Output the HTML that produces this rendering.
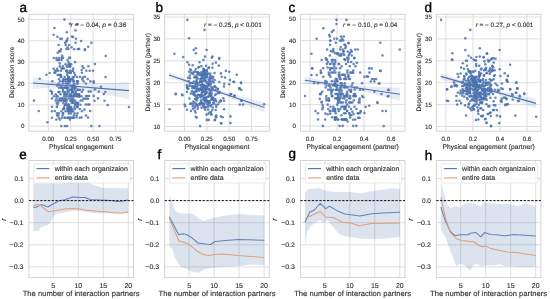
<!DOCTYPE html>
<html><head><meta charset="utf-8"><style>
html,body{margin:0;padding:0;background:#fff;overflow:hidden}
svg{display:block;filter:blur(0.35px)}
text{font-family:"Liberation Sans", sans-serif;text-rendering:geometricPrecision;stroke:#2e2e2e;stroke-width:0.12px}
</style></head><body>
<svg width="550" height="299" viewBox="0 0 550 299">
<rect width="550" height="299" fill="#fff"/>
<line x1="48.30" y1="14.30" x2="48.30" y2="131.20" stroke="#d6d6d6" stroke-width="0.8"/>
<line x1="70.70" y1="14.30" x2="70.70" y2="131.20" stroke="#d6d6d6" stroke-width="0.8"/>
<line x1="93.10" y1="14.30" x2="93.10" y2="131.20" stroke="#d6d6d6" stroke-width="0.8"/>
<line x1="115.50" y1="14.30" x2="115.50" y2="131.20" stroke="#d6d6d6" stroke-width="0.8"/>
<line x1="28.90" y1="126.20" x2="133.50" y2="126.20" stroke="#d6d6d6" stroke-width="0.8"/>
<line x1="28.90" y1="104.84" x2="133.50" y2="104.84" stroke="#d6d6d6" stroke-width="0.8"/>
<line x1="28.90" y1="83.48" x2="133.50" y2="83.48" stroke="#d6d6d6" stroke-width="0.8"/>
<line x1="28.90" y1="62.12" x2="133.50" y2="62.12" stroke="#d6d6d6" stroke-width="0.8"/>
<line x1="28.90" y1="40.76" x2="133.50" y2="40.76" stroke="#d6d6d6" stroke-width="0.8"/>
<line x1="28.90" y1="19.40" x2="133.50" y2="19.40" stroke="#d6d6d6" stroke-width="0.8"/>
<rect x="28.90" y="14.30" width="104.60" height="116.90" fill="none" stroke="#cfcfcf" stroke-width="0.9"/>
<g fill="#4c72b0" fill-opacity="0.85"><circle cx="64.40" cy="19.60" r="1.28"/><circle cx="69.90" cy="23.80" r="1.28"/><circle cx="77.60" cy="24.00" r="1.28"/><circle cx="54.40" cy="28.00" r="1.28"/><circle cx="75.40" cy="30.30" r="1.28"/><circle cx="66.80" cy="32.30" r="1.28"/><circle cx="53.70" cy="34.70" r="1.28"/><circle cx="57.50" cy="36.70" r="1.28"/><circle cx="60.20" cy="38.70" r="1.28"/><circle cx="61.80" cy="38.70" r="1.28"/><circle cx="67.60" cy="38.50" r="1.28"/><circle cx="66.90" cy="40.40" r="1.28"/><circle cx="66.40" cy="41.40" r="1.28"/><circle cx="71.80" cy="36.50" r="1.28"/><circle cx="73.10" cy="37.00" r="1.28"/><circle cx="76.00" cy="38.70" r="1.28"/><circle cx="81.10" cy="41.00" r="1.28"/><circle cx="75.60" cy="42.70" r="1.28"/><circle cx="91.40" cy="42.70" r="1.28"/><circle cx="65.80" cy="45.00" r="1.28"/><circle cx="69.10" cy="45.00" r="1.28"/><circle cx="71.60" cy="47.20" r="1.28"/><circle cx="88.20" cy="46.80" r="1.28"/><circle cx="85.10" cy="49.40" r="1.28"/><circle cx="77.70" cy="49.00" r="1.28"/><circle cx="79.10" cy="49.00" r="1.28"/><circle cx="66.40" cy="49.00" r="1.28"/><circle cx="68.40" cy="49.00" r="1.28"/><circle cx="78.50" cy="49.00" r="1.28"/><circle cx="59.10" cy="51.40" r="1.28"/><circle cx="57.70" cy="52.80" r="1.28"/><circle cx="60.40" cy="51.30" r="1.28"/><circle cx="39.70" cy="78.70" r="1.28"/><circle cx="46.40" cy="74.70" r="1.28"/><circle cx="49.70" cy="73.00" r="1.28"/><circle cx="53.70" cy="68.70" r="1.28"/><circle cx="53.70" cy="58.00" r="1.28"/><circle cx="56.40" cy="58.00" r="1.28"/><circle cx="59.10" cy="58.00" r="1.28"/><circle cx="61.80" cy="58.00" r="1.28"/><circle cx="59.70" cy="63.40" r="1.28"/><circle cx="57.10" cy="68.70" r="1.28"/><circle cx="105.70" cy="56.00" r="1.28"/><circle cx="84.70" cy="50.00" r="1.28"/><circle cx="95.00" cy="64.00" r="1.28"/><circle cx="88.40" cy="66.30" r="1.28"/><circle cx="83.70" cy="68.00" r="1.28"/><circle cx="81.70" cy="70.00" r="1.28"/><circle cx="86.30" cy="70.70" r="1.28"/><circle cx="89.70" cy="70.70" r="1.28"/><circle cx="93.00" cy="70.70" r="1.28"/><circle cx="105.50" cy="77.10" r="1.28"/><circle cx="83.00" cy="77.40" r="1.28"/><circle cx="85.00" cy="76.70" r="1.28"/><circle cx="87.70" cy="79.10" r="1.28"/><circle cx="90.40" cy="81.40" r="1.28"/><circle cx="93.70" cy="81.40" r="1.28"/><circle cx="93.70" cy="82.80" r="1.28"/><circle cx="82.30" cy="79.40" r="1.28"/><circle cx="83.70" cy="81.40" r="1.28"/><circle cx="101.00" cy="86.80" r="1.28"/><circle cx="95.00" cy="89.40" r="1.28"/><circle cx="34.00" cy="100.60" r="1.28"/><circle cx="38.80" cy="111.00" r="1.28"/><circle cx="47.40" cy="122.20" r="1.28"/><circle cx="56.30" cy="119.60" r="1.28"/><circle cx="59.90" cy="119.60" r="1.28"/><circle cx="69.90" cy="119.60" r="1.28"/><circle cx="61.30" cy="126.10" r="1.28"/><circle cx="64.90" cy="126.10" r="1.28"/><circle cx="67.10" cy="126.10" r="1.28"/><circle cx="52.00" cy="106.70" r="1.28"/><circle cx="54.90" cy="111.00" r="1.28"/><circle cx="50.60" cy="90.90" r="1.28"/><circle cx="52.00" cy="93.70" r="1.28"/><circle cx="91.30" cy="126.10" r="1.28"/><circle cx="99.50" cy="126.10" r="1.28"/><circle cx="76.50" cy="117.50" r="1.28"/><circle cx="81.50" cy="117.50" r="1.28"/><circle cx="88.00" cy="117.50" r="1.28"/><circle cx="90.10" cy="111.00" r="1.28"/><circle cx="84.40" cy="109.60" r="1.28"/><circle cx="107.70" cy="105.00" r="1.28"/><circle cx="129.00" cy="107.00" r="1.28"/><circle cx="104.50" cy="100.70" r="1.28"/><circle cx="98.00" cy="98.40" r="1.28"/><circle cx="94.50" cy="100.70" r="1.28"/><circle cx="103.80" cy="94.00" r="1.28"/><circle cx="105.30" cy="92.00" r="1.28"/><circle cx="98.80" cy="91.60" r="1.28"/><circle cx="88.70" cy="91.60" r="1.28"/><circle cx="90.90" cy="91.60" r="1.28"/><circle cx="93.70" cy="95.90" r="1.28"/><circle cx="86.00" cy="96.00" r="1.28"/><circle cx="87.50" cy="96.00" r="1.28"/><circle cx="89.00" cy="96.00" r="1.28"/><circle cx="85.10" cy="98.80" r="1.28"/><circle cx="86.50" cy="98.80" r="1.28"/><circle cx="88.00" cy="98.80" r="1.28"/><circle cx="85.80" cy="104.50" r="1.28"/><circle cx="88.00" cy="104.50" r="1.28"/><circle cx="89.40" cy="104.50" r="1.28"/><circle cx="52.00" cy="92.02" r="1.28"/><circle cx="73.56" cy="117.66" r="1.28"/><circle cx="69.22" cy="109.11" r="1.28"/><circle cx="76.70" cy="96.30" r="1.28"/><circle cx="67.99" cy="109.11" r="1.28"/><circle cx="70.76" cy="113.38" r="1.28"/><circle cx="57.00" cy="113.38" r="1.28"/><circle cx="72.58" cy="109.11" r="1.28"/><circle cx="65.44" cy="100.57" r="1.28"/><circle cx="71.80" cy="111.25" r="1.28"/><circle cx="72.68" cy="96.30" r="1.28"/><circle cx="68.06" cy="79.21" r="1.28"/><circle cx="71.53" cy="100.57" r="1.28"/><circle cx="68.89" cy="83.48" r="1.28"/><circle cx="75.07" cy="94.16" r="1.28"/><circle cx="73.01" cy="111.25" r="1.28"/><circle cx="64.62" cy="100.57" r="1.28"/><circle cx="64.30" cy="109.11" r="1.28"/><circle cx="82.95" cy="89.89" r="1.28"/><circle cx="68.19" cy="111.25" r="1.28"/><circle cx="76.93" cy="83.48" r="1.28"/><circle cx="72.15" cy="92.02" r="1.28"/><circle cx="64.49" cy="117.66" r="1.28"/><circle cx="63.01" cy="89.89" r="1.28"/><circle cx="69.96" cy="79.21" r="1.28"/><circle cx="71.05" cy="106.98" r="1.28"/><circle cx="73.91" cy="87.75" r="1.28"/><circle cx="58.86" cy="117.66" r="1.28"/><circle cx="64.24" cy="96.30" r="1.28"/><circle cx="68.24" cy="117.66" r="1.28"/><circle cx="81.81" cy="92.02" r="1.28"/><circle cx="52.00" cy="117.66" r="1.28"/><circle cx="72.51" cy="117.66" r="1.28"/><circle cx="64.68" cy="94.16" r="1.28"/><circle cx="72.45" cy="70.66" r="1.28"/><circle cx="65.06" cy="104.84" r="1.28"/><circle cx="71.92" cy="87.75" r="1.28"/><circle cx="81.52" cy="96.30" r="1.28"/><circle cx="71.83" cy="102.70" r="1.28"/><circle cx="72.47" cy="92.02" r="1.28"/><circle cx="71.98" cy="79.21" r="1.28"/><circle cx="63.00" cy="113.38" r="1.28"/><circle cx="73.34" cy="92.02" r="1.28"/><circle cx="67.33" cy="94.16" r="1.28"/><circle cx="62.51" cy="115.52" r="1.28"/><circle cx="68.69" cy="79.21" r="1.28"/><circle cx="67.18" cy="74.94" r="1.28"/><circle cx="75.03" cy="109.11" r="1.28"/><circle cx="68.66" cy="77.07" r="1.28"/><circle cx="64.76" cy="98.43" r="1.28"/><circle cx="80.65" cy="100.57" r="1.28"/><circle cx="76.91" cy="81.34" r="1.28"/><circle cx="79.16" cy="96.30" r="1.28"/><circle cx="73.86" cy="94.16" r="1.28"/><circle cx="68.12" cy="81.34" r="1.28"/><circle cx="65.65" cy="83.48" r="1.28"/><circle cx="66.77" cy="87.75" r="1.28"/><circle cx="76.58" cy="115.52" r="1.28"/><circle cx="69.90" cy="117.66" r="1.28"/><circle cx="57.14" cy="85.62" r="1.28"/><circle cx="68.69" cy="109.11" r="1.28"/><circle cx="57.67" cy="96.30" r="1.28"/><circle cx="70.33" cy="111.25" r="1.28"/><circle cx="59.37" cy="100.57" r="1.28"/><circle cx="58.89" cy="113.38" r="1.28"/><circle cx="69.95" cy="79.21" r="1.28"/><circle cx="68.37" cy="111.25" r="1.28"/><circle cx="55.71" cy="100.57" r="1.28"/><circle cx="74.99" cy="100.57" r="1.28"/><circle cx="86.00" cy="83.48" r="1.28"/><circle cx="57.15" cy="115.52" r="1.28"/><circle cx="83.56" cy="98.43" r="1.28"/><circle cx="63.50" cy="100.57" r="1.28"/><circle cx="65.05" cy="92.02" r="1.28"/><circle cx="67.57" cy="92.02" r="1.28"/><circle cx="57.44" cy="104.84" r="1.28"/><circle cx="79.39" cy="96.30" r="1.28"/><circle cx="72.94" cy="102.70" r="1.28"/><circle cx="62.99" cy="92.02" r="1.28"/><circle cx="66.78" cy="100.57" r="1.28"/><circle cx="56.87" cy="106.98" r="1.28"/><circle cx="66.22" cy="98.43" r="1.28"/><circle cx="76.49" cy="94.16" r="1.28"/><circle cx="55.28" cy="72.80" r="1.28"/><circle cx="65.51" cy="104.84" r="1.28"/><circle cx="70.17" cy="94.16" r="1.28"/><circle cx="77.39" cy="81.34" r="1.28"/><circle cx="79.79" cy="117.66" r="1.28"/><circle cx="65.34" cy="117.66" r="1.28"/><circle cx="63.08" cy="113.38" r="1.28"/><circle cx="72.60" cy="100.57" r="1.28"/><circle cx="66.09" cy="70.66" r="1.28"/><circle cx="66.52" cy="94.16" r="1.28"/><circle cx="77.64" cy="83.48" r="1.28"/><circle cx="82.52" cy="100.57" r="1.28"/><circle cx="71.13" cy="117.66" r="1.28"/><circle cx="67.46" cy="117.66" r="1.28"/><circle cx="73.57" cy="85.62" r="1.28"/><circle cx="53.90" cy="96.30" r="1.28"/><circle cx="68.85" cy="113.38" r="1.28"/><circle cx="60.52" cy="85.62" r="1.28"/><circle cx="86.00" cy="115.52" r="1.28"/><circle cx="74.76" cy="85.62" r="1.28"/><circle cx="70.13" cy="81.34" r="1.28"/><circle cx="67.45" cy="106.98" r="1.28"/><circle cx="52.00" cy="111.25" r="1.28"/><circle cx="74.70" cy="87.75" r="1.28"/><circle cx="82.03" cy="111.25" r="1.28"/><circle cx="63.17" cy="87.75" r="1.28"/><circle cx="74.47" cy="113.38" r="1.28"/><circle cx="74.78" cy="89.89" r="1.28"/><circle cx="56.61" cy="96.30" r="1.28"/><circle cx="76.49" cy="102.70" r="1.28"/><circle cx="79.84" cy="109.11" r="1.28"/><circle cx="70.83" cy="96.30" r="1.28"/><circle cx="68.49" cy="117.66" r="1.28"/><circle cx="75.30" cy="102.70" r="1.28"/><circle cx="56.67" cy="102.70" r="1.28"/><circle cx="69.75" cy="89.89" r="1.28"/><circle cx="77.43" cy="113.38" r="1.28"/><circle cx="59.06" cy="79.21" r="1.28"/><circle cx="76.94" cy="102.70" r="1.28"/><circle cx="65.65" cy="111.25" r="1.28"/><circle cx="52.35" cy="81.34" r="1.28"/><circle cx="68.15" cy="79.21" r="1.28"/><circle cx="61.22" cy="100.57" r="1.28"/><circle cx="71.55" cy="109.11" r="1.28"/><circle cx="59.62" cy="98.43" r="1.28"/><circle cx="77.40" cy="106.98" r="1.28"/><circle cx="63.09" cy="102.70" r="1.28"/><circle cx="71.85" cy="79.21" r="1.28"/><circle cx="64.25" cy="94.16" r="1.28"/><circle cx="66.42" cy="96.30" r="1.28"/><circle cx="78.53" cy="94.16" r="1.28"/><circle cx="70.72" cy="98.43" r="1.28"/><circle cx="65.84" cy="87.75" r="1.28"/><circle cx="58.99" cy="87.75" r="1.28"/><circle cx="78.28" cy="102.70" r="1.28"/><circle cx="74.86" cy="96.30" r="1.28"/><circle cx="66.39" cy="70.66" r="1.28"/><circle cx="70.95" cy="94.16" r="1.28"/><circle cx="60.76" cy="100.57" r="1.28"/><circle cx="60.88" cy="74.94" r="1.28"/><circle cx="62.39" cy="98.43" r="1.28"/><circle cx="71.83" cy="111.25" r="1.28"/><circle cx="71.37" cy="89.89" r="1.28"/><circle cx="63.04" cy="109.11" r="1.28"/><circle cx="74.90" cy="104.84" r="1.28"/><circle cx="75.28" cy="94.16" r="1.28"/><circle cx="70.38" cy="100.57" r="1.28"/><circle cx="77.31" cy="106.98" r="1.28"/><circle cx="66.70" cy="104.84" r="1.28"/><circle cx="68.10" cy="104.84" r="1.28"/><circle cx="72.78" cy="85.62" r="1.28"/><circle cx="68.73" cy="106.98" r="1.28"/><circle cx="75.35" cy="104.84" r="1.28"/><circle cx="58.98" cy="74.94" r="1.28"/><circle cx="80.41" cy="104.84" r="1.28"/><circle cx="62.75" cy="81.34" r="1.28"/><circle cx="67.68" cy="83.48" r="1.28"/><circle cx="57.98" cy="100.57" r="1.28"/><circle cx="73.80" cy="115.52" r="1.28"/><circle cx="79.19" cy="94.16" r="1.28"/><circle cx="77.57" cy="89.89" r="1.28"/><circle cx="75.67" cy="87.75" r="1.28"/><circle cx="56.54" cy="98.43" r="1.28"/><circle cx="62.74" cy="83.48" r="1.28"/><circle cx="65.30" cy="81.34" r="1.28"/><circle cx="61.52" cy="111.25" r="1.28"/><circle cx="77.98" cy="81.34" r="1.28"/><circle cx="70.48" cy="96.30" r="1.28"/><circle cx="68.80" cy="104.84" r="1.28"/><circle cx="72.90" cy="102.70" r="1.28"/><circle cx="61.39" cy="77.07" r="1.28"/><circle cx="61.73" cy="87.75" r="1.28"/><circle cx="61.95" cy="117.66" r="1.28"/><circle cx="72.98" cy="98.43" r="1.28"/><circle cx="71.73" cy="100.57" r="1.28"/><circle cx="73.62" cy="100.57" r="1.28"/><circle cx="77.63" cy="104.84" r="1.28"/><circle cx="58.14" cy="115.52" r="1.28"/><circle cx="64.52" cy="87.75" r="1.28"/><circle cx="70.18" cy="109.11" r="1.28"/><circle cx="58.21" cy="102.70" r="1.28"/><circle cx="64.74" cy="104.84" r="1.28"/><circle cx="77.11" cy="106.98" r="1.28"/><circle cx="77.82" cy="89.89" r="1.28"/><circle cx="77.61" cy="94.16" r="1.28"/><circle cx="69.34" cy="106.98" r="1.28"/><circle cx="67.30" cy="109.11" r="1.28"/><circle cx="77.64" cy="104.84" r="1.28"/><circle cx="66.02" cy="87.75" r="1.28"/><circle cx="71.71" cy="96.30" r="1.28"/><circle cx="79.60" cy="96.30" r="1.28"/><circle cx="66.06" cy="102.70" r="1.28"/><circle cx="64.12" cy="100.57" r="1.28"/><circle cx="68.93" cy="96.30" r="1.28"/><circle cx="73.79" cy="117.66" r="1.28"/><circle cx="72.86" cy="79.21" r="1.28"/><circle cx="70.25" cy="106.98" r="1.28"/><circle cx="63.59" cy="79.21" r="1.28"/><circle cx="75.03" cy="62.12" r="1.28"/><circle cx="68.33" cy="87.75" r="1.28"/><circle cx="67.25" cy="70.66" r="1.28"/><circle cx="63.50" cy="79.21" r="1.28"/><circle cx="57.63" cy="74.94" r="1.28"/><circle cx="68.11" cy="81.34" r="1.28"/><circle cx="74.17" cy="49.30" r="1.28"/><circle cx="61.60" cy="87.75" r="1.28"/><circle cx="75.18" cy="74.94" r="1.28"/><circle cx="60.24" cy="74.94" r="1.28"/><circle cx="62.60" cy="68.53" r="1.28"/><circle cx="70.04" cy="70.66" r="1.28"/><circle cx="67.00" cy="72.80" r="1.28"/><circle cx="71.15" cy="64.26" r="1.28"/><circle cx="62.55" cy="98.43" r="1.28"/><circle cx="60.81" cy="77.07" r="1.28"/><circle cx="55.80" cy="94.16" r="1.28"/><circle cx="59.78" cy="74.94" r="1.28"/><circle cx="60.54" cy="94.16" r="1.28"/><circle cx="58.44" cy="92.02" r="1.28"/><circle cx="68.85" cy="79.21" r="1.28"/><circle cx="63.02" cy="57.85" r="1.28"/><circle cx="55.07" cy="70.66" r="1.28"/><circle cx="81.90" cy="72.80" r="1.28"/><circle cx="61.99" cy="57.85" r="1.28"/><circle cx="59.47" cy="92.02" r="1.28"/><circle cx="74.44" cy="106.98" r="1.28"/><circle cx="73.99" cy="83.48" r="1.28"/><circle cx="60.09" cy="81.34" r="1.28"/><circle cx="58.16" cy="59.98" r="1.28"/><circle cx="61.00" cy="49.30" r="1.28"/><circle cx="73.78" cy="96.30" r="1.28"/><circle cx="65.13" cy="42.90" r="1.28"/><circle cx="62.15" cy="55.71" r="1.28"/><circle cx="66.83" cy="66.39" r="1.28"/><circle cx="74.23" cy="72.80" r="1.28"/><circle cx="58.66" cy="45.03" r="1.28"/><circle cx="64.70" cy="77.07" r="1.28"/><circle cx="58.70" cy="83.48" r="1.28"/><circle cx="80.03" cy="77.07" r="1.28"/><circle cx="77.91" cy="96.30" r="1.28"/><circle cx="72.71" cy="70.66" r="1.28"/><circle cx="66.20" cy="79.21" r="1.28"/><circle cx="70.95" cy="72.80" r="1.28"/><circle cx="54.39" cy="72.80" r="1.28"/><circle cx="68.66" cy="92.02" r="1.28"/><circle cx="58.98" cy="59.98" r="1.28"/><circle cx="59.05" cy="92.02" r="1.28"/><circle cx="62.77" cy="66.39" r="1.28"/><circle cx="64.90" cy="100.57" r="1.28"/><circle cx="70.45" cy="72.80" r="1.28"/><circle cx="71.20" cy="89.89" r="1.28"/><circle cx="68.58" cy="77.07" r="1.28"/><circle cx="61.33" cy="87.75" r="1.28"/><circle cx="71.06" cy="109.11" r="1.28"/><circle cx="66.27" cy="94.16" r="1.28"/><circle cx="74.08" cy="77.07" r="1.28"/><circle cx="61.50" cy="68.53" r="1.28"/><circle cx="52.00" cy="98.43" r="1.28"/><circle cx="64.14" cy="106.98" r="1.28"/><circle cx="79.91" cy="89.89" r="1.28"/><circle cx="69.81" cy="81.34" r="1.28"/><circle cx="65.83" cy="87.75" r="1.28"/><circle cx="72.30" cy="89.89" r="1.28"/><circle cx="70.02" cy="66.39" r="1.28"/><circle cx="69.77" cy="64.26" r="1.28"/><circle cx="63.92" cy="68.53" r="1.28"/><circle cx="67.46" cy="89.89" r="1.28"/><circle cx="68.21" cy="77.07" r="1.28"/><circle cx="63.14" cy="81.34" r="1.28"/><circle cx="60.29" cy="98.43" r="1.28"/><circle cx="67.83" cy="66.39" r="1.28"/><circle cx="72.81" cy="77.07" r="1.28"/><circle cx="70.88" cy="85.62" r="1.28"/><circle cx="69.96" cy="57.85" r="1.28"/><circle cx="70.03" cy="66.39" r="1.28"/><circle cx="82.50" cy="66.39" r="1.28"/><circle cx="68.56" cy="62.12" r="1.28"/><circle cx="73.25" cy="68.53" r="1.28"/><circle cx="78.74" cy="96.30" r="1.28"/><circle cx="67.32" cy="83.48" r="1.28"/><circle cx="68.59" cy="64.26" r="1.28"/><circle cx="73.26" cy="87.75" r="1.28"/><circle cx="77.13" cy="77.07" r="1.28"/><circle cx="68.88" cy="72.80" r="1.28"/><circle cx="69.18" cy="57.85" r="1.28"/><circle cx="67.55" cy="59.98" r="1.28"/><circle cx="59.77" cy="66.39" r="1.28"/><circle cx="73.71" cy="81.34" r="1.28"/><circle cx="65.49" cy="64.26" r="1.28"/><circle cx="56.69" cy="70.66" r="1.28"/><circle cx="66.14" cy="79.21" r="1.28"/><circle cx="56.64" cy="59.98" r="1.28"/><circle cx="60.97" cy="70.66" r="1.28"/><circle cx="67.13" cy="87.75" r="1.28"/><circle cx="61.50" cy="59.98" r="1.28"/><circle cx="73.45" cy="81.34" r="1.28"/><circle cx="58.22" cy="70.66" r="1.28"/><circle cx="68.61" cy="98.43" r="1.28"/><circle cx="70.39" cy="79.21" r="1.28"/><circle cx="75.80" cy="92.02" r="1.28"/><circle cx="72.58" cy="92.02" r="1.28"/><circle cx="68.45" cy="104.84" r="1.28"/><circle cx="67.53" cy="47.17" r="1.28"/></g>
<polygon points="33.00,77.00 35.46,77.58 37.92,78.15 40.38,78.72 42.85,79.29 45.31,79.85 47.77,80.40 50.23,80.95 52.69,81.48 55.15,81.99 57.62,82.47 60.08,82.93 62.54,83.33 65.00,83.67 67.46,83.93 69.92,84.10 72.38,84.22 74.85,84.29 77.31,84.31 79.77,84.29 82.23,84.25 84.69,84.19 87.15,84.12 89.62,84.03 92.08,83.94 94.54,83.83 97.00,83.73 99.46,83.61 101.92,83.50 104.38,83.38 106.85,83.26 109.31,83.13 111.77,83.01 114.23,82.88 116.69,82.75 119.15,82.63 121.62,82.50 124.08,82.36 126.54,82.23 129.00,82.10 129.00,99.10 126.54,98.58 124.08,98.06 121.62,97.54 119.15,97.02 116.69,96.50 114.23,95.98 111.77,95.46 109.31,94.95 106.85,94.43 104.38,93.92 101.92,93.41 99.46,92.91 97.00,92.41 94.54,91.91 92.08,91.42 89.62,90.93 87.15,90.46 84.69,89.99 82.23,89.54 79.77,89.11 77.31,88.71 74.85,88.34 72.38,88.01 69.92,87.74 67.46,87.53 65.00,87.40 62.54,87.35 60.08,87.36 57.62,87.42 55.15,87.52 52.69,87.64 50.23,87.78 47.77,87.94 45.31,88.10 42.85,88.27 40.38,88.45 37.92,88.63 35.46,88.81 33.00,89.00" fill="#4c72b0" fill-opacity="0.13"/>
<line x1="33.0" y1="83.0" x2="129.0" y2="90.6" stroke="#4c72b0" stroke-width="1.15"/>
<text x="70.60" y="27.2" font-size="6.3" fill="#2e2e2e" textLength="55.7" lengthAdjust="spacingAndGlyphs"><tspan font-style="italic">r</tspan> = − 0.04, <tspan font-style="italic">p</tspan> = 0.36</text>
<text x="48.30" y="140.60" font-size="6.2" text-anchor="middle" fill="#2e2e2e" >0.00</text>
<text x="70.70" y="140.60" font-size="6.2" text-anchor="middle" fill="#2e2e2e" >0.25</text>
<text x="93.10" y="140.60" font-size="6.2" text-anchor="middle" fill="#2e2e2e" >0.50</text>
<text x="115.50" y="140.60" font-size="6.2" text-anchor="middle" fill="#2e2e2e" >0.75</text>
<text x="24.50" y="128.30" font-size="6.2" text-anchor="end" fill="#2e2e2e" >0</text>
<text x="24.50" y="106.94" font-size="6.2" text-anchor="end" fill="#2e2e2e" >10</text>
<text x="24.50" y="85.58" font-size="6.2" text-anchor="end" fill="#2e2e2e" >20</text>
<text x="24.50" y="64.22" font-size="6.2" text-anchor="end" fill="#2e2e2e" >30</text>
<text x="24.50" y="42.86" font-size="6.2" text-anchor="end" fill="#2e2e2e" >40</text>
<text x="24.50" y="21.50" font-size="6.2" text-anchor="end" fill="#2e2e2e" >50</text>
<text x="81.20" y="149.20" font-size="6.75" text-anchor="middle" fill="#2e2e2e" >Physical engagement</text>
<text x="0.00" y="0.00" font-size="6.6" text-anchor="middle" fill="#2e2e2e" transform="translate(13.90,72.25) rotate(-90)">Depression score</text>
<text x="19.60" y="12.30" font-size="13.5" text-anchor="start" fill="#000" style="stroke:#000;stroke-width:0.35px">a</text>
<line x1="184.40" y1="14.30" x2="184.40" y2="131.20" stroke="#d6d6d6" stroke-width="0.8"/>
<line x1="206.80" y1="14.30" x2="206.80" y2="131.20" stroke="#d6d6d6" stroke-width="0.8"/>
<line x1="229.20" y1="14.30" x2="229.20" y2="131.20" stroke="#d6d6d6" stroke-width="0.8"/>
<line x1="251.60" y1="14.30" x2="251.60" y2="131.20" stroke="#d6d6d6" stroke-width="0.8"/>
<line x1="164.70" y1="126.50" x2="269.30" y2="126.50" stroke="#d6d6d6" stroke-width="0.8"/>
<line x1="164.70" y1="104.60" x2="269.30" y2="104.60" stroke="#d6d6d6" stroke-width="0.8"/>
<line x1="164.70" y1="82.70" x2="269.30" y2="82.70" stroke="#d6d6d6" stroke-width="0.8"/>
<line x1="164.70" y1="60.80" x2="269.30" y2="60.80" stroke="#d6d6d6" stroke-width="0.8"/>
<line x1="164.70" y1="38.90" x2="269.30" y2="38.90" stroke="#d6d6d6" stroke-width="0.8"/>
<line x1="164.70" y1="17.00" x2="269.30" y2="17.00" stroke="#d6d6d6" stroke-width="0.8"/>
<rect x="164.70" y="14.30" width="104.60" height="116.90" fill="none" stroke="#cfcfcf" stroke-width="0.9"/>
<g fill="#4c72b0" fill-opacity="0.85"><circle cx="187.40" cy="19.90" r="1.28"/><circle cx="204.50" cy="29.90" r="1.28"/><circle cx="189.10" cy="38.20" r="1.28"/><circle cx="174.40" cy="53.80" r="1.28"/><circle cx="183.20" cy="57.10" r="1.28"/><circle cx="193.80" cy="50.00" r="1.28"/><circle cx="195.80" cy="48.30" r="1.28"/><circle cx="195.80" cy="53.30" r="1.28"/><circle cx="206.60" cy="50.00" r="1.28"/><circle cx="205.00" cy="56.60" r="1.28"/><circle cx="211.70" cy="57.80" r="1.28"/><circle cx="212.50" cy="56.60" r="1.28"/><circle cx="219.20" cy="58.80" r="1.28"/><circle cx="219.20" cy="58.10" r="1.28"/><circle cx="215.90" cy="62.60" r="1.28"/><circle cx="225.90" cy="70.90" r="1.28"/><circle cx="229.20" cy="71.80" r="1.28"/><circle cx="236.80" cy="74.80" r="1.28"/><circle cx="220.90" cy="73.40" r="1.28"/><circle cx="221.70" cy="76.80" r="1.28"/><circle cx="225.00" cy="77.60" r="1.28"/><circle cx="230.10" cy="80.10" r="1.28"/><circle cx="233.40" cy="81.80" r="1.28"/><circle cx="240.90" cy="83.10" r="1.28"/><circle cx="229.20" cy="84.30" r="1.28"/><circle cx="224.20" cy="83.80" r="1.28"/><circle cx="239.30" cy="88.50" r="1.28"/><circle cx="234.10" cy="82.10" r="1.28"/><circle cx="241.10" cy="82.60" r="1.28"/><circle cx="239.40" cy="88.40" r="1.28"/><circle cx="189.10" cy="64.70" r="1.28"/><circle cx="192.70" cy="65.30" r="1.28"/><circle cx="189.10" cy="71.70" r="1.28"/><circle cx="190.30" cy="69.40" r="1.28"/><circle cx="186.80" cy="85.10" r="1.28"/><circle cx="188.00" cy="88.70" r="1.28"/><circle cx="175.70" cy="93.90" r="1.28"/><circle cx="182.10" cy="94.50" r="1.28"/><circle cx="175.80" cy="94.10" r="1.28"/><circle cx="182.50" cy="95.20" r="1.28"/><circle cx="169.50" cy="109.30" r="1.28"/><circle cx="184.70" cy="104.60" r="1.28"/><circle cx="185.20" cy="106.20" r="1.28"/><circle cx="190.40" cy="103.80" r="1.28"/><circle cx="200.10" cy="126.10" r="1.28"/><circle cx="206.70" cy="119.90" r="1.28"/><circle cx="208.70" cy="119.90" r="1.28"/><circle cx="215.00" cy="119.50" r="1.28"/><circle cx="221.30" cy="123.50" r="1.28"/><circle cx="206.40" cy="114.80" r="1.28"/><circle cx="211.10" cy="114.00" r="1.28"/><circle cx="215.80" cy="116.40" r="1.28"/><circle cx="194.60" cy="107.80" r="1.28"/><circle cx="197.80" cy="107.00" r="1.28"/><circle cx="239.80" cy="88.90" r="1.28"/><circle cx="241.40" cy="90.00" r="1.28"/><circle cx="234.30" cy="95.70" r="1.28"/><circle cx="230.40" cy="94.40" r="1.28"/><circle cx="241.40" cy="100.70" r="1.28"/><circle cx="239.80" cy="104.60" r="1.28"/><circle cx="243.00" cy="104.60" r="1.28"/><circle cx="264.20" cy="104.20" r="1.28"/><circle cx="224.10" cy="109.30" r="1.28"/><circle cx="230.40" cy="116.40" r="1.28"/><circle cx="221.00" cy="116.40" r="1.28"/><circle cx="222.60" cy="117.20" r="1.28"/><circle cx="216.30" cy="115.60" r="1.28"/><circle cx="216.30" cy="117.20" r="1.28"/><circle cx="221.00" cy="123.00" r="1.28"/><circle cx="230.40" cy="123.00" r="1.28"/><circle cx="214.70" cy="120.30" r="1.28"/><circle cx="223.30" cy="98.30" r="1.28"/><circle cx="224.10" cy="100.70" r="1.28"/><circle cx="219.40" cy="102.30" r="1.28"/><circle cx="212.40" cy="110.10" r="1.28"/><circle cx="211.60" cy="114.80" r="1.28"/><circle cx="234.70" cy="95.80" r="1.28"/><circle cx="231.20" cy="94.00" r="1.28"/><circle cx="241.70" cy="100.80" r="1.28"/><circle cx="202.30" cy="81.52" r="1.28"/><circle cx="219.40" cy="82.06" r="1.28"/><circle cx="198.32" cy="67.54" r="1.28"/><circle cx="196.69" cy="89.10" r="1.28"/><circle cx="213.24" cy="77.07" r="1.28"/><circle cx="201.12" cy="81.93" r="1.28"/><circle cx="196.15" cy="82.36" r="1.28"/><circle cx="204.67" cy="72.90" r="1.28"/><circle cx="187.00" cy="86.75" r="1.28"/><circle cx="204.75" cy="88.05" r="1.28"/><circle cx="201.75" cy="81.24" r="1.28"/><circle cx="203.49" cy="60.00" r="1.28"/><circle cx="195.97" cy="91.33" r="1.28"/><circle cx="210.84" cy="78.53" r="1.28"/><circle cx="203.82" cy="74.30" r="1.28"/><circle cx="201.47" cy="74.82" r="1.28"/><circle cx="204.15" cy="70.59" r="1.28"/><circle cx="195.74" cy="76.65" r="1.28"/><circle cx="200.70" cy="85.00" r="1.28"/><circle cx="191.06" cy="70.39" r="1.28"/><circle cx="193.85" cy="81.55" r="1.28"/><circle cx="203.65" cy="74.72" r="1.28"/><circle cx="202.41" cy="77.57" r="1.28"/><circle cx="206.78" cy="76.63" r="1.28"/><circle cx="196.92" cy="82.36" r="1.28"/><circle cx="200.79" cy="88.34" r="1.28"/><circle cx="196.74" cy="79.67" r="1.28"/><circle cx="203.35" cy="87.38" r="1.28"/><circle cx="207.03" cy="92.37" r="1.28"/><circle cx="209.03" cy="67.49" r="1.28"/><circle cx="205.54" cy="86.42" r="1.28"/><circle cx="195.97" cy="77.24" r="1.28"/><circle cx="202.99" cy="78.21" r="1.28"/><circle cx="194.24" cy="88.05" r="1.28"/><circle cx="188.05" cy="77.82" r="1.28"/><circle cx="202.71" cy="74.48" r="1.28"/><circle cx="202.07" cy="90.54" r="1.28"/><circle cx="206.69" cy="88.75" r="1.28"/><circle cx="207.25" cy="83.39" r="1.28"/><circle cx="192.83" cy="103.85" r="1.28"/><circle cx="195.10" cy="71.56" r="1.28"/><circle cx="201.41" cy="66.15" r="1.28"/><circle cx="201.95" cy="78.13" r="1.28"/><circle cx="204.29" cy="70.33" r="1.28"/><circle cx="192.28" cy="83.11" r="1.28"/><circle cx="199.66" cy="74.98" r="1.28"/><circle cx="205.90" cy="74.90" r="1.28"/><circle cx="214.68" cy="80.06" r="1.28"/><circle cx="192.62" cy="72.85" r="1.28"/><circle cx="212.74" cy="63.70" r="1.28"/><circle cx="199.39" cy="73.82" r="1.28"/><circle cx="191.28" cy="85.95" r="1.28"/><circle cx="210.69" cy="81.99" r="1.28"/><circle cx="193.90" cy="87.90" r="1.28"/><circle cx="193.19" cy="94.26" r="1.28"/><circle cx="206.39" cy="87.44" r="1.28"/><circle cx="208.60" cy="79.50" r="1.28"/><circle cx="201.82" cy="73.63" r="1.28"/><circle cx="196.29" cy="83.92" r="1.28"/><circle cx="190.90" cy="93.61" r="1.28"/><circle cx="202.08" cy="92.06" r="1.28"/><circle cx="187.00" cy="87.93" r="1.28"/><circle cx="191.12" cy="73.19" r="1.28"/><circle cx="208.72" cy="84.94" r="1.28"/><circle cx="205.63" cy="86.00" r="1.28"/><circle cx="209.83" cy="90.40" r="1.28"/><circle cx="204.14" cy="69.26" r="1.28"/><circle cx="193.27" cy="74.10" r="1.28"/><circle cx="204.56" cy="81.17" r="1.28"/><circle cx="188.58" cy="81.06" r="1.28"/><circle cx="206.11" cy="74.84" r="1.28"/><circle cx="210.78" cy="84.25" r="1.28"/><circle cx="194.22" cy="77.51" r="1.28"/><circle cx="208.40" cy="89.39" r="1.28"/><circle cx="201.48" cy="75.88" r="1.28"/><circle cx="200.07" cy="81.69" r="1.28"/><circle cx="187.38" cy="62.23" r="1.28"/><circle cx="200.10" cy="81.73" r="1.28"/><circle cx="207.26" cy="74.37" r="1.28"/><circle cx="189.18" cy="86.02" r="1.28"/><circle cx="197.80" cy="78.55" r="1.28"/><circle cx="196.24" cy="90.43" r="1.28"/><circle cx="189.78" cy="75.50" r="1.28"/><circle cx="208.48" cy="67.83" r="1.28"/><circle cx="201.31" cy="82.04" r="1.28"/><circle cx="201.47" cy="84.93" r="1.28"/><circle cx="208.06" cy="73.69" r="1.28"/><circle cx="195.91" cy="69.02" r="1.28"/><circle cx="223.96" cy="86.42" r="1.28"/><circle cx="197.96" cy="88.93" r="1.28"/><circle cx="193.05" cy="86.21" r="1.28"/><circle cx="205.64" cy="80.77" r="1.28"/><circle cx="203.88" cy="80.01" r="1.28"/><circle cx="194.53" cy="93.85" r="1.28"/><circle cx="194.94" cy="86.81" r="1.28"/><circle cx="207.12" cy="72.33" r="1.28"/><circle cx="203.37" cy="70.90" r="1.28"/><circle cx="204.24" cy="85.32" r="1.28"/><circle cx="207.45" cy="86.23" r="1.28"/><circle cx="197.15" cy="74.83" r="1.28"/><circle cx="210.23" cy="73.60" r="1.28"/><circle cx="201.62" cy="88.21" r="1.28"/><circle cx="206.48" cy="77.36" r="1.28"/><circle cx="195.03" cy="87.12" r="1.28"/><circle cx="206.73" cy="70.67" r="1.28"/><circle cx="203.44" cy="71.67" r="1.28"/><circle cx="218.83" cy="65.55" r="1.28"/><circle cx="200.45" cy="79.77" r="1.28"/><circle cx="212.23" cy="76.63" r="1.28"/><circle cx="206.00" cy="65.81" r="1.28"/><circle cx="212.54" cy="81.35" r="1.28"/><circle cx="203.24" cy="75.55" r="1.28"/><circle cx="204.96" cy="78.15" r="1.28"/><circle cx="187.00" cy="91.88" r="1.28"/><circle cx="192.67" cy="88.24" r="1.28"/><circle cx="208.92" cy="84.21" r="1.28"/><circle cx="204.58" cy="77.22" r="1.28"/><circle cx="207.02" cy="69.94" r="1.28"/><circle cx="199.79" cy="74.46" r="1.28"/><circle cx="207.11" cy="76.84" r="1.28"/><circle cx="199.13" cy="90.67" r="1.28"/><circle cx="201.23" cy="72.18" r="1.28"/><circle cx="210.13" cy="75.40" r="1.28"/><circle cx="209.17" cy="79.93" r="1.28"/><circle cx="198.58" cy="83.32" r="1.28"/><circle cx="201.98" cy="89.18" r="1.28"/><circle cx="203.28" cy="91.26" r="1.28"/><circle cx="200.64" cy="78.74" r="1.28"/><circle cx="200.93" cy="96.33" r="1.28"/><circle cx="195.04" cy="85.70" r="1.28"/><circle cx="205.59" cy="73.35" r="1.28"/><circle cx="194.32" cy="71.72" r="1.28"/><circle cx="194.89" cy="76.45" r="1.28"/><circle cx="210.50" cy="77.86" r="1.28"/><circle cx="214.39" cy="86.68" r="1.28"/><circle cx="214.52" cy="73.07" r="1.28"/><circle cx="204.09" cy="75.16" r="1.28"/><circle cx="197.87" cy="72.78" r="1.28"/><circle cx="206.80" cy="82.25" r="1.28"/><circle cx="212.45" cy="67.66" r="1.28"/><circle cx="202.44" cy="84.65" r="1.28"/><circle cx="198.80" cy="73.28" r="1.28"/><circle cx="189.97" cy="78.14" r="1.28"/><circle cx="189.83" cy="83.64" r="1.28"/><circle cx="213.61" cy="82.50" r="1.28"/><circle cx="191.35" cy="103.57" r="1.28"/><circle cx="196.93" cy="72.27" r="1.28"/><circle cx="199.50" cy="62.30" r="1.28"/><circle cx="203.30" cy="68.86" r="1.28"/><circle cx="192.53" cy="86.99" r="1.28"/><circle cx="205.55" cy="70.90" r="1.28"/><circle cx="205.60" cy="88.67" r="1.28"/><circle cx="202.06" cy="78.13" r="1.28"/><circle cx="197.21" cy="86.27" r="1.28"/><circle cx="198.96" cy="67.00" r="1.28"/><circle cx="188.07" cy="88.79" r="1.28"/><circle cx="205.90" cy="89.78" r="1.28"/><circle cx="197.86" cy="72.07" r="1.28"/><circle cx="191.95" cy="91.16" r="1.28"/><circle cx="201.23" cy="102.30" r="1.28"/><circle cx="204.94" cy="79.96" r="1.28"/><circle cx="203.97" cy="72.03" r="1.28"/><circle cx="205.82" cy="74.91" r="1.28"/><circle cx="209.61" cy="77.54" r="1.28"/><circle cx="197.77" cy="88.55" r="1.28"/><circle cx="219.68" cy="92.06" r="1.28"/><circle cx="202.87" cy="103.77" r="1.28"/><circle cx="204.30" cy="92.10" r="1.28"/><circle cx="195.61" cy="87.75" r="1.28"/><circle cx="202.07" cy="92.19" r="1.28"/><circle cx="209.52" cy="100.96" r="1.28"/><circle cx="190.96" cy="111.05" r="1.28"/><circle cx="211.15" cy="94.61" r="1.28"/><circle cx="212.69" cy="107.42" r="1.28"/><circle cx="215.02" cy="95.00" r="1.28"/><circle cx="201.72" cy="95.14" r="1.28"/><circle cx="194.25" cy="91.83" r="1.28"/><circle cx="203.90" cy="104.85" r="1.28"/><circle cx="198.24" cy="94.76" r="1.28"/><circle cx="192.80" cy="106.11" r="1.28"/><circle cx="200.30" cy="95.43" r="1.28"/><circle cx="195.56" cy="112.45" r="1.28"/><circle cx="220.41" cy="100.42" r="1.28"/><circle cx="211.59" cy="99.14" r="1.28"/><circle cx="212.58" cy="89.30" r="1.28"/><circle cx="197.68" cy="108.98" r="1.28"/><circle cx="216.26" cy="101.18" r="1.28"/><circle cx="203.18" cy="99.42" r="1.28"/><circle cx="212.37" cy="99.01" r="1.28"/><circle cx="198.36" cy="94.94" r="1.28"/><circle cx="210.67" cy="94.76" r="1.28"/><circle cx="193.45" cy="101.62" r="1.28"/><circle cx="204.69" cy="92.56" r="1.28"/><circle cx="204.17" cy="97.79" r="1.28"/><circle cx="195.76" cy="116.85" r="1.28"/><circle cx="206.19" cy="97.94" r="1.28"/><circle cx="201.73" cy="96.72" r="1.28"/><circle cx="203.03" cy="106.09" r="1.28"/><circle cx="211.51" cy="91.23" r="1.28"/><circle cx="215.69" cy="110.06" r="1.28"/><circle cx="204.50" cy="99.03" r="1.28"/><circle cx="215.60" cy="89.75" r="1.28"/><circle cx="213.49" cy="97.86" r="1.28"/><circle cx="211.57" cy="93.50" r="1.28"/><circle cx="217.88" cy="104.48" r="1.28"/><circle cx="194.73" cy="95.32" r="1.28"/><circle cx="215.96" cy="104.71" r="1.28"/><circle cx="208.83" cy="83.75" r="1.28"/><circle cx="203.08" cy="95.52" r="1.28"/><circle cx="204.75" cy="103.49" r="1.28"/><circle cx="213.63" cy="102.99" r="1.28"/><circle cx="215.00" cy="99.48" r="1.28"/><circle cx="211.39" cy="104.93" r="1.28"/><circle cx="197.35" cy="105.16" r="1.28"/><circle cx="195.09" cy="98.97" r="1.28"/><circle cx="206.37" cy="100.67" r="1.28"/><circle cx="210.81" cy="106.12" r="1.28"/><circle cx="200.89" cy="100.31" r="1.28"/><circle cx="212.66" cy="78.69" r="1.28"/><circle cx="210.64" cy="86.49" r="1.28"/><circle cx="209.70" cy="93.80" r="1.28"/><circle cx="200.38" cy="104.40" r="1.28"/><circle cx="215.40" cy="99.50" r="1.28"/><circle cx="213.35" cy="104.12" r="1.28"/><circle cx="216.25" cy="106.94" r="1.28"/><circle cx="208.95" cy="103.28" r="1.28"/><circle cx="196.66" cy="91.48" r="1.28"/><circle cx="208.97" cy="105.61" r="1.28"/><circle cx="212.61" cy="88.23" r="1.28"/><circle cx="205.08" cy="88.72" r="1.28"/><circle cx="197.57" cy="95.36" r="1.28"/><circle cx="210.30" cy="80.81" r="1.28"/><circle cx="210.92" cy="112.03" r="1.28"/><circle cx="196.74" cy="117.49" r="1.28"/><circle cx="200.68" cy="97.35" r="1.28"/><circle cx="195.26" cy="95.63" r="1.28"/><circle cx="208.52" cy="82.04" r="1.28"/><circle cx="207.41" cy="102.78" r="1.28"/><circle cx="219.06" cy="92.98" r="1.28"/><circle cx="199.21" cy="88.92" r="1.28"/><circle cx="216.00" cy="87.46" r="1.28"/><circle cx="204.40" cy="97.47" r="1.28"/><circle cx="208.05" cy="96.67" r="1.28"/><circle cx="196.79" cy="97.34" r="1.28"/><circle cx="206.21" cy="93.47" r="1.28"/><circle cx="202.06" cy="84.62" r="1.28"/><circle cx="205.18" cy="109.71" r="1.28"/><circle cx="207.39" cy="104.77" r="1.28"/><circle cx="209.64" cy="93.63" r="1.28"/><circle cx="212.25" cy="87.55" r="1.28"/><circle cx="205.86" cy="90.27" r="1.28"/><circle cx="199.34" cy="103.77" r="1.28"/><circle cx="213.69" cy="102.31" r="1.28"/><circle cx="206.63" cy="100.54" r="1.28"/><circle cx="201.50" cy="107.78" r="1.28"/><circle cx="216.28" cy="93.91" r="1.28"/><circle cx="208.19" cy="109.67" r="1.28"/><circle cx="211.45" cy="99.65" r="1.28"/><circle cx="193.37" cy="92.35" r="1.28"/><circle cx="201.38" cy="102.39" r="1.28"/><circle cx="221.11" cy="100.88" r="1.28"/><circle cx="209.80" cy="92.78" r="1.28"/><circle cx="209.66" cy="112.59" r="1.28"/><circle cx="200.75" cy="85.30" r="1.28"/><circle cx="205.01" cy="100.41" r="1.28"/><circle cx="208.80" cy="101.61" r="1.28"/><circle cx="205.47" cy="92.72" r="1.28"/><circle cx="205.18" cy="98.81" r="1.28"/><circle cx="192.89" cy="108.83" r="1.28"/><circle cx="200.05" cy="89.54" r="1.28"/><circle cx="202.63" cy="89.82" r="1.28"/><circle cx="210.21" cy="95.75" r="1.28"/><circle cx="209.85" cy="102.49" r="1.28"/><circle cx="205.87" cy="107.37" r="1.28"/><circle cx="200.55" cy="103.10" r="1.28"/><circle cx="200.54" cy="89.57" r="1.28"/><circle cx="207.79" cy="107.34" r="1.28"/><circle cx="195.83" cy="104.16" r="1.28"/><circle cx="204.28" cy="106.66" r="1.28"/><circle cx="203.58" cy="85.30" r="1.28"/><circle cx="204.00" cy="84.95" r="1.28"/><circle cx="218.29" cy="92.97" r="1.28"/><circle cx="204.81" cy="94.69" r="1.28"/><circle cx="212.32" cy="98.14" r="1.28"/><circle cx="217.80" cy="89.49" r="1.28"/><circle cx="209.73" cy="89.67" r="1.28"/><circle cx="205.90" cy="101.54" r="1.28"/><circle cx="196.51" cy="81.25" r="1.28"/><circle cx="217.98" cy="88.71" r="1.28"/><circle cx="197.58" cy="98.29" r="1.28"/><circle cx="190.60" cy="104.05" r="1.28"/><circle cx="213.80" cy="100.28" r="1.28"/><circle cx="194.88" cy="110.77" r="1.28"/><circle cx="196.86" cy="100.51" r="1.28"/><circle cx="200.46" cy="103.72" r="1.28"/><circle cx="196.90" cy="104.55" r="1.28"/><circle cx="189.46" cy="98.42" r="1.28"/><circle cx="207.14" cy="87.60" r="1.28"/><circle cx="209.30" cy="95.79" r="1.28"/><circle cx="211.33" cy="96.37" r="1.28"/><circle cx="205.43" cy="91.07" r="1.28"/><circle cx="202.65" cy="103.26" r="1.28"/><circle cx="201.66" cy="93.72" r="1.28"/><circle cx="214.71" cy="86.07" r="1.28"/><circle cx="211.90" cy="97.78" r="1.28"/><circle cx="202.33" cy="89.84" r="1.28"/><circle cx="207.90" cy="102.04" r="1.28"/><circle cx="196.78" cy="77.02" r="1.28"/><circle cx="209.33" cy="84.30" r="1.28"/><circle cx="197.56" cy="97.87" r="1.28"/><circle cx="204.48" cy="99.79" r="1.28"/><circle cx="203.81" cy="98.44" r="1.28"/><circle cx="187.00" cy="109.84" r="1.28"/><circle cx="210.55" cy="95.83" r="1.28"/><circle cx="205.31" cy="93.72" r="1.28"/><circle cx="199.68" cy="104.40" r="1.28"/><circle cx="200.14" cy="95.23" r="1.28"/><circle cx="204.72" cy="100.95" r="1.28"/><circle cx="204.24" cy="107.85" r="1.28"/><circle cx="208.81" cy="96.56" r="1.28"/><circle cx="206.56" cy="97.00" r="1.28"/><circle cx="209.98" cy="93.05" r="1.28"/><circle cx="207.28" cy="101.01" r="1.28"/><circle cx="195.08" cy="102.85" r="1.28"/><circle cx="195.02" cy="106.17" r="1.28"/><circle cx="208.97" cy="103.28" r="1.28"/><circle cx="208.42" cy="113.87" r="1.28"/><circle cx="205.46" cy="99.31" r="1.28"/><circle cx="195.77" cy="99.15" r="1.28"/><circle cx="200.26" cy="95.90" r="1.28"/></g>
<polygon points="168.90,71.80 171.35,72.83 173.80,73.86 176.25,74.88 178.71,75.90 181.16,76.92 183.61,77.93 186.06,78.93 188.51,79.93 190.96,80.91 193.41,81.87 195.86,82.82 198.32,83.73 200.77,84.62 203.22,85.47 205.67,86.28 208.12,87.07 210.57,87.83 213.02,88.56 215.47,89.28 217.93,89.99 220.38,90.68 222.83,91.36 225.28,92.04 227.73,92.71 230.18,93.38 232.63,94.04 235.08,94.70 237.54,95.36 239.99,96.01 242.44,96.66 244.89,97.32 247.34,97.97 249.79,98.62 252.24,99.27 254.69,99.91 257.15,100.56 259.60,101.21 262.05,101.85 264.50,102.50 264.50,112.50 262.05,111.48 259.60,110.46 257.15,109.44 254.69,108.42 252.24,107.40 249.79,106.38 247.34,105.37 244.89,104.35 242.44,103.34 239.99,102.32 237.54,101.31 235.08,100.30 232.63,99.30 230.18,98.29 227.73,97.29 225.28,96.30 222.83,95.31 220.38,94.32 217.93,93.35 215.47,92.39 213.02,91.44 210.57,90.51 208.12,89.60 205.67,88.72 203.22,87.87 200.77,87.05 198.32,86.27 195.86,85.52 193.41,84.79 190.96,84.09 188.51,83.41 186.06,82.73 183.61,82.07 181.16,81.41 178.71,80.76 176.25,80.12 173.80,79.48 171.35,78.84 168.90,78.20" fill="#4c72b0" fill-opacity="0.13"/>
<line x1="168.9" y1="75.0" x2="264.5" y2="107.5" stroke="#4c72b0" stroke-width="1.15"/>
<text x="204.10" y="27.2" font-size="6.3" fill="#2e2e2e" textLength="57.6" lengthAdjust="spacingAndGlyphs"><tspan font-style="italic">r</tspan> = − 0.25, <tspan font-style="italic">p</tspan> &lt; 0.001</text>
<text x="184.40" y="140.60" font-size="6.2" text-anchor="middle" fill="#2e2e2e" >0.00</text>
<text x="206.80" y="140.60" font-size="6.2" text-anchor="middle" fill="#2e2e2e" >0.25</text>
<text x="229.20" y="140.60" font-size="6.2" text-anchor="middle" fill="#2e2e2e" >0.50</text>
<text x="251.60" y="140.60" font-size="6.2" text-anchor="middle" fill="#2e2e2e" >0.75</text>
<text x="160.30" y="128.60" font-size="6.2" text-anchor="end" fill="#2e2e2e" >10</text>
<text x="160.30" y="106.70" font-size="6.2" text-anchor="end" fill="#2e2e2e" >15</text>
<text x="160.30" y="84.80" font-size="6.2" text-anchor="end" fill="#2e2e2e" >20</text>
<text x="160.30" y="62.90" font-size="6.2" text-anchor="end" fill="#2e2e2e" >25</text>
<text x="160.30" y="41.00" font-size="6.2" text-anchor="end" fill="#2e2e2e" >30</text>
<text x="160.30" y="19.10" font-size="6.2" text-anchor="end" fill="#2e2e2e" >35</text>
<text x="217.00" y="149.20" font-size="6.75" text-anchor="middle" fill="#2e2e2e" >Physical engagement</text>
<text x="0.00" y="0.00" font-size="6.6" text-anchor="middle" fill="#2e2e2e" transform="translate(149.70,72.25) rotate(-90)">Depression score (partner)</text>
<text x="155.60" y="11.90" font-size="13.5" text-anchor="start" fill="#000" style="stroke:#000;stroke-width:0.35px">b</text>
<line x1="310.00" y1="14.30" x2="310.00" y2="131.20" stroke="#d6d6d6" stroke-width="0.8"/>
<line x1="337.04" y1="14.30" x2="337.04" y2="131.20" stroke="#d6d6d6" stroke-width="0.8"/>
<line x1="364.08" y1="14.30" x2="364.08" y2="131.20" stroke="#d6d6d6" stroke-width="0.8"/>
<line x1="391.12" y1="14.30" x2="391.12" y2="131.20" stroke="#d6d6d6" stroke-width="0.8"/>
<line x1="300.40" y1="126.00" x2="405.00" y2="126.00" stroke="#d6d6d6" stroke-width="0.8"/>
<line x1="300.40" y1="104.64" x2="405.00" y2="104.64" stroke="#d6d6d6" stroke-width="0.8"/>
<line x1="300.40" y1="83.28" x2="405.00" y2="83.28" stroke="#d6d6d6" stroke-width="0.8"/>
<line x1="300.40" y1="61.92" x2="405.00" y2="61.92" stroke="#d6d6d6" stroke-width="0.8"/>
<line x1="300.40" y1="40.56" x2="405.00" y2="40.56" stroke="#d6d6d6" stroke-width="0.8"/>
<line x1="300.40" y1="19.20" x2="405.00" y2="19.20" stroke="#d6d6d6" stroke-width="0.8"/>
<rect x="300.40" y="14.30" width="104.60" height="116.90" fill="none" stroke="#cfcfcf" stroke-width="0.9"/>
<g fill="#4c72b0" fill-opacity="0.85"><circle cx="336.50" cy="19.90" r="1.28"/><circle cx="346.50" cy="19.90" r="1.28"/><circle cx="336.50" cy="24.00" r="1.28"/><circle cx="323.40" cy="28.20" r="1.28"/><circle cx="331.80" cy="32.10" r="1.28"/><circle cx="333.40" cy="30.40" r="1.28"/><circle cx="329.30" cy="34.90" r="1.28"/><circle cx="329.80" cy="36.60" r="1.28"/><circle cx="316.70" cy="38.70" r="1.28"/><circle cx="334.30" cy="38.70" r="1.28"/><circle cx="337.10" cy="38.70" r="1.28"/><circle cx="341.00" cy="36.60" r="1.28"/><circle cx="343.80" cy="36.60" r="1.28"/><circle cx="342.00" cy="38.70" r="1.28"/><circle cx="343.20" cy="40.40" r="1.28"/><circle cx="341.00" cy="40.80" r="1.28"/><circle cx="330.40" cy="40.80" r="1.28"/><circle cx="330.10" cy="44.90" r="1.28"/><circle cx="348.50" cy="42.80" r="1.28"/><circle cx="345.20" cy="44.90" r="1.28"/><circle cx="346.00" cy="46.60" r="1.28"/><circle cx="327.10" cy="49.50" r="1.28"/><circle cx="330.90" cy="51.10" r="1.28"/><circle cx="332.60" cy="51.60" r="1.28"/><circle cx="335.10" cy="53.30" r="1.28"/><circle cx="337.60" cy="54.10" r="1.28"/><circle cx="340.10" cy="49.50" r="1.28"/><circle cx="342.60" cy="49.50" r="1.28"/><circle cx="345.20" cy="48.30" r="1.28"/><circle cx="341.00" cy="54.10" r="1.28"/><circle cx="344.30" cy="55.00" r="1.28"/><circle cx="351.00" cy="50.00" r="1.28"/><circle cx="351.80" cy="51.60" r="1.28"/><circle cx="355.20" cy="49.50" r="1.28"/><circle cx="357.70" cy="49.50" r="1.28"/><circle cx="349.30" cy="54.10" r="1.28"/><circle cx="311.40" cy="53.80" r="1.28"/><circle cx="325.90" cy="58.30" r="1.28"/><circle cx="321.70" cy="60.00" r="1.28"/><circle cx="331.80" cy="60.00" r="1.28"/><circle cx="335.10" cy="60.00" r="1.28"/><circle cx="344.30" cy="59.20" r="1.28"/><circle cx="348.50" cy="58.30" r="1.28"/><circle cx="354.30" cy="58.30" r="1.28"/><circle cx="380.30" cy="42.80" r="1.28"/><circle cx="399.80" cy="49.50" r="1.28"/><circle cx="382.50" cy="55.50" r="1.28"/><circle cx="348.50" cy="43.30" r="1.28"/><circle cx="347.70" cy="51.60" r="1.28"/><circle cx="350.20" cy="52.50" r="1.28"/><circle cx="354.40" cy="57.80" r="1.28"/><circle cx="356.90" cy="62.80" r="1.28"/><circle cx="312.00" cy="68.40" r="1.28"/><circle cx="311.40" cy="75.00" r="1.28"/><circle cx="316.70" cy="75.00" r="1.28"/><circle cx="320.90" cy="72.50" r="1.28"/><circle cx="305.00" cy="96.00" r="1.28"/><circle cx="320.10" cy="94.30" r="1.28"/><circle cx="321.70" cy="101.80" r="1.28"/><circle cx="322.60" cy="105.10" r="1.28"/><circle cx="325.10" cy="83.40" r="1.28"/><circle cx="326.80" cy="81.70" r="1.28"/><circle cx="327.60" cy="67.50" r="1.28"/><circle cx="330.10" cy="70.00" r="1.28"/><circle cx="312.30" cy="68.50" r="1.28"/><circle cx="321.10" cy="73.00" r="1.28"/><circle cx="322.20" cy="91.90" r="1.28"/><circle cx="320.50" cy="93.70" r="1.28"/><circle cx="314.00" cy="83.10" r="1.28"/><circle cx="315.50" cy="111.10" r="1.28"/><circle cx="322.90" cy="125.90" r="1.28"/><circle cx="339.60" cy="125.90" r="1.28"/><circle cx="342.70" cy="125.90" r="1.28"/><circle cx="353.20" cy="125.90" r="1.28"/><circle cx="356.30" cy="125.90" r="1.28"/><circle cx="325.40" cy="113.60" r="1.28"/><circle cx="327.80" cy="114.20" r="1.28"/><circle cx="330.30" cy="113.60" r="1.28"/><circle cx="332.20" cy="117.30" r="1.28"/><circle cx="335.90" cy="117.30" r="1.28"/><circle cx="344.60" cy="119.80" r="1.28"/><circle cx="347.60" cy="121.60" r="1.28"/><circle cx="353.20" cy="119.80" r="1.28"/><circle cx="358.20" cy="117.90" r="1.28"/><circle cx="322.90" cy="107.40" r="1.28"/><circle cx="322.30" cy="109.20" r="1.28"/><circle cx="321.70" cy="102.40" r="1.28"/><circle cx="319.80" cy="98.70" r="1.28"/><circle cx="380.00" cy="70.80" r="1.28"/><circle cx="369.20" cy="68.40" r="1.28"/><circle cx="371.60" cy="68.40" r="1.28"/><circle cx="364.40" cy="76.80" r="1.28"/><circle cx="368.00" cy="76.80" r="1.28"/><circle cx="374.00" cy="79.20" r="1.28"/><circle cx="378.80" cy="83.60" r="1.28"/><circle cx="388.50" cy="90.00" r="1.28"/><circle cx="388.50" cy="96.00" r="1.28"/><circle cx="377.60" cy="102.80" r="1.28"/><circle cx="382.50" cy="111.00" r="1.28"/><circle cx="386.00" cy="111.00" r="1.28"/><circle cx="383.70" cy="126.10" r="1.28"/><circle cx="364.40" cy="112.90" r="1.28"/><circle cx="360.80" cy="111.70" r="1.28"/><circle cx="365.60" cy="106.90" r="1.28"/><circle cx="369.20" cy="105.70" r="1.28"/><circle cx="359.60" cy="98.50" r="1.28"/><circle cx="363.20" cy="97.30" r="1.28"/><circle cx="359.60" cy="117.70" r="1.28"/><circle cx="352.40" cy="111.70" r="1.28"/><circle cx="353.60" cy="114.10" r="1.28"/><circle cx="380.80" cy="70.90" r="1.28"/><circle cx="369.40" cy="72.60" r="1.28"/><circle cx="366.80" cy="76.40" r="1.28"/><circle cx="372.00" cy="79.10" r="1.28"/><circle cx="376.10" cy="79.10" r="1.28"/><circle cx="370.80" cy="81.50" r="1.28"/><circle cx="374.40" cy="81.50" r="1.28"/><circle cx="379.60" cy="83.50" r="1.28"/><circle cx="374.40" cy="91.60" r="1.28"/><circle cx="381.40" cy="94.00" r="1.28"/><circle cx="388.40" cy="89.90" r="1.28"/><circle cx="387.80" cy="96.30" r="1.28"/><circle cx="377.30" cy="102.50" r="1.28"/><circle cx="331.35" cy="91.82" r="1.28"/><circle cx="353.95" cy="93.96" r="1.28"/><circle cx="341.46" cy="93.96" r="1.28"/><circle cx="335.02" cy="83.28" r="1.28"/><circle cx="335.60" cy="117.46" r="1.28"/><circle cx="346.62" cy="119.59" r="1.28"/><circle cx="350.89" cy="91.82" r="1.28"/><circle cx="340.02" cy="87.55" r="1.28"/><circle cx="351.47" cy="72.60" r="1.28"/><circle cx="362.87" cy="89.69" r="1.28"/><circle cx="339.92" cy="89.69" r="1.28"/><circle cx="330.51" cy="111.05" r="1.28"/><circle cx="331.46" cy="89.69" r="1.28"/><circle cx="328.10" cy="89.69" r="1.28"/><circle cx="335.60" cy="113.18" r="1.28"/><circle cx="334.76" cy="111.05" r="1.28"/><circle cx="328.75" cy="100.37" r="1.28"/><circle cx="347.30" cy="96.10" r="1.28"/><circle cx="318.00" cy="119.59" r="1.28"/><circle cx="328.79" cy="98.23" r="1.28"/><circle cx="362.15" cy="96.10" r="1.28"/><circle cx="352.38" cy="102.50" r="1.28"/><circle cx="347.23" cy="96.10" r="1.28"/><circle cx="346.57" cy="93.96" r="1.28"/><circle cx="359.71" cy="113.18" r="1.28"/><circle cx="347.36" cy="93.96" r="1.28"/><circle cx="342.78" cy="102.50" r="1.28"/><circle cx="329.70" cy="111.05" r="1.28"/><circle cx="341.26" cy="96.10" r="1.28"/><circle cx="334.66" cy="81.14" r="1.28"/><circle cx="334.94" cy="117.46" r="1.28"/><circle cx="334.86" cy="119.59" r="1.28"/><circle cx="341.55" cy="119.59" r="1.28"/><circle cx="338.70" cy="74.74" r="1.28"/><circle cx="350.71" cy="102.50" r="1.28"/><circle cx="328.74" cy="100.37" r="1.28"/><circle cx="340.31" cy="108.91" r="1.28"/><circle cx="360.59" cy="111.05" r="1.28"/><circle cx="342.39" cy="119.59" r="1.28"/><circle cx="353.99" cy="96.10" r="1.28"/><circle cx="353.37" cy="96.10" r="1.28"/><circle cx="355.17" cy="119.59" r="1.28"/><circle cx="349.38" cy="113.18" r="1.28"/><circle cx="328.20" cy="108.91" r="1.28"/><circle cx="339.33" cy="100.37" r="1.28"/><circle cx="338.20" cy="96.10" r="1.28"/><circle cx="326.51" cy="85.42" r="1.28"/><circle cx="337.36" cy="81.14" r="1.28"/><circle cx="329.50" cy="85.42" r="1.28"/><circle cx="325.34" cy="81.14" r="1.28"/><circle cx="344.11" cy="113.18" r="1.28"/><circle cx="341.56" cy="106.78" r="1.28"/><circle cx="335.12" cy="85.42" r="1.28"/><circle cx="332.49" cy="96.10" r="1.28"/><circle cx="336.59" cy="98.23" r="1.28"/><circle cx="338.06" cy="119.59" r="1.28"/><circle cx="337.92" cy="119.59" r="1.28"/><circle cx="341.47" cy="89.69" r="1.28"/><circle cx="337.64" cy="93.96" r="1.28"/><circle cx="345.87" cy="102.50" r="1.28"/><circle cx="347.23" cy="104.64" r="1.28"/><circle cx="345.58" cy="119.59" r="1.28"/><circle cx="335.37" cy="93.96" r="1.28"/><circle cx="335.83" cy="85.42" r="1.28"/><circle cx="346.35" cy="79.01" r="1.28"/><circle cx="340.03" cy="98.23" r="1.28"/><circle cx="341.57" cy="102.50" r="1.28"/><circle cx="318.00" cy="113.18" r="1.28"/><circle cx="318.00" cy="83.28" r="1.28"/><circle cx="345.37" cy="76.87" r="1.28"/><circle cx="345.30" cy="106.78" r="1.28"/><circle cx="355.93" cy="96.10" r="1.28"/><circle cx="349.21" cy="98.23" r="1.28"/><circle cx="344.22" cy="106.78" r="1.28"/><circle cx="342.16" cy="119.59" r="1.28"/><circle cx="327.73" cy="104.64" r="1.28"/><circle cx="350.83" cy="91.82" r="1.28"/><circle cx="335.96" cy="117.46" r="1.28"/><circle cx="347.02" cy="111.05" r="1.28"/><circle cx="344.00" cy="119.59" r="1.28"/><circle cx="344.72" cy="83.28" r="1.28"/><circle cx="350.93" cy="91.82" r="1.28"/><circle cx="337.10" cy="98.23" r="1.28"/><circle cx="338.13" cy="102.50" r="1.28"/><circle cx="333.44" cy="106.78" r="1.28"/><circle cx="338.23" cy="100.37" r="1.28"/><circle cx="358.66" cy="102.50" r="1.28"/><circle cx="338.37" cy="102.50" r="1.28"/><circle cx="353.86" cy="100.37" r="1.28"/><circle cx="350.26" cy="98.23" r="1.28"/><circle cx="349.29" cy="79.01" r="1.28"/><circle cx="350.03" cy="117.46" r="1.28"/><circle cx="331.86" cy="96.10" r="1.28"/><circle cx="345.73" cy="106.78" r="1.28"/><circle cx="357.88" cy="113.18" r="1.28"/><circle cx="335.04" cy="119.59" r="1.28"/><circle cx="341.53" cy="91.82" r="1.28"/><circle cx="335.11" cy="111.05" r="1.28"/><circle cx="345.17" cy="108.91" r="1.28"/><circle cx="331.21" cy="93.96" r="1.28"/><circle cx="358.10" cy="113.18" r="1.28"/><circle cx="338.23" cy="98.23" r="1.28"/><circle cx="326.57" cy="100.37" r="1.28"/><circle cx="359.91" cy="89.69" r="1.28"/><circle cx="351.71" cy="85.42" r="1.28"/><circle cx="347.19" cy="111.05" r="1.28"/><circle cx="347.33" cy="87.55" r="1.28"/><circle cx="338.42" cy="100.37" r="1.28"/><circle cx="339.77" cy="98.23" r="1.28"/><circle cx="349.24" cy="102.50" r="1.28"/><circle cx="351.18" cy="89.69" r="1.28"/><circle cx="351.33" cy="115.32" r="1.28"/><circle cx="344.13" cy="96.10" r="1.28"/><circle cx="337.34" cy="85.42" r="1.28"/><circle cx="340.08" cy="102.50" r="1.28"/><circle cx="353.10" cy="72.60" r="1.28"/><circle cx="356.40" cy="108.91" r="1.28"/><circle cx="338.59" cy="96.10" r="1.28"/><circle cx="337.23" cy="104.64" r="1.28"/><circle cx="354.48" cy="106.78" r="1.28"/><circle cx="349.24" cy="113.18" r="1.28"/><circle cx="348.97" cy="106.78" r="1.28"/><circle cx="328.88" cy="100.37" r="1.28"/><circle cx="338.26" cy="108.91" r="1.28"/><circle cx="336.85" cy="87.55" r="1.28"/><circle cx="344.08" cy="79.01" r="1.28"/><circle cx="325.15" cy="119.59" r="1.28"/><circle cx="354.72" cy="89.69" r="1.28"/><circle cx="345.00" cy="96.10" r="1.28"/><circle cx="346.35" cy="96.10" r="1.28"/><circle cx="330.16" cy="68.33" r="1.28"/><circle cx="341.74" cy="83.28" r="1.28"/><circle cx="355.35" cy="96.10" r="1.28"/><circle cx="326.30" cy="96.10" r="1.28"/><circle cx="345.06" cy="119.59" r="1.28"/><circle cx="348.99" cy="89.69" r="1.28"/><circle cx="335.08" cy="108.91" r="1.28"/><circle cx="350.15" cy="96.10" r="1.28"/><circle cx="338.70" cy="98.23" r="1.28"/><circle cx="354.30" cy="87.55" r="1.28"/><circle cx="347.28" cy="72.60" r="1.28"/><circle cx="344.24" cy="87.55" r="1.28"/><circle cx="362.09" cy="83.28" r="1.28"/><circle cx="350.32" cy="102.50" r="1.28"/><circle cx="355.09" cy="93.96" r="1.28"/><circle cx="330.10" cy="89.69" r="1.28"/><circle cx="335.53" cy="117.46" r="1.28"/><circle cx="350.37" cy="72.60" r="1.28"/><circle cx="351.06" cy="108.91" r="1.28"/><circle cx="341.44" cy="115.32" r="1.28"/><circle cx="349.80" cy="79.01" r="1.28"/><circle cx="331.42" cy="72.60" r="1.28"/><circle cx="344.14" cy="108.91" r="1.28"/><circle cx="330.53" cy="106.78" r="1.28"/><circle cx="345.41" cy="59.78" r="1.28"/><circle cx="337.14" cy="98.23" r="1.28"/><circle cx="335.59" cy="119.59" r="1.28"/><circle cx="342.56" cy="106.78" r="1.28"/><circle cx="360.17" cy="72.60" r="1.28"/><circle cx="331.88" cy="91.82" r="1.28"/><circle cx="335.98" cy="89.69" r="1.28"/><circle cx="352.68" cy="83.28" r="1.28"/><circle cx="337.76" cy="89.69" r="1.28"/><circle cx="359.69" cy="102.50" r="1.28"/><circle cx="344.23" cy="119.59" r="1.28"/><circle cx="342.91" cy="93.96" r="1.28"/><circle cx="345.57" cy="113.18" r="1.28"/><circle cx="359.41" cy="100.37" r="1.28"/><circle cx="348.55" cy="76.87" r="1.28"/><circle cx="347.17" cy="91.82" r="1.28"/><circle cx="344.52" cy="98.23" r="1.28"/><circle cx="326.38" cy="98.23" r="1.28"/><circle cx="333.15" cy="89.69" r="1.28"/><circle cx="356.83" cy="87.55" r="1.28"/><circle cx="350.22" cy="115.32" r="1.28"/><circle cx="347.06" cy="96.10" r="1.28"/><circle cx="348.37" cy="76.87" r="1.28"/><circle cx="336.56" cy="89.69" r="1.28"/><circle cx="345.38" cy="108.91" r="1.28"/><circle cx="332.99" cy="108.91" r="1.28"/><circle cx="345.91" cy="119.59" r="1.28"/><circle cx="334.86" cy="108.91" r="1.28"/><circle cx="339.86" cy="79.01" r="1.28"/><circle cx="346.53" cy="100.37" r="1.28"/><circle cx="338.73" cy="111.05" r="1.28"/><circle cx="333.10" cy="68.33" r="1.28"/><circle cx="337.06" cy="53.38" r="1.28"/><circle cx="337.09" cy="81.14" r="1.28"/><circle cx="334.99" cy="83.28" r="1.28"/><circle cx="331.46" cy="68.33" r="1.28"/><circle cx="343.41" cy="51.24" r="1.28"/><circle cx="351.08" cy="61.92" r="1.28"/><circle cx="333.17" cy="72.60" r="1.28"/><circle cx="333.40" cy="64.06" r="1.28"/><circle cx="348.11" cy="61.92" r="1.28"/><circle cx="325.56" cy="87.55" r="1.28"/><circle cx="332.97" cy="111.05" r="1.28"/><circle cx="334.79" cy="85.42" r="1.28"/><circle cx="339.43" cy="91.82" r="1.28"/><circle cx="335.66" cy="79.01" r="1.28"/><circle cx="330.46" cy="87.55" r="1.28"/><circle cx="340.64" cy="83.28" r="1.28"/><circle cx="327.90" cy="61.92" r="1.28"/><circle cx="323.19" cy="68.33" r="1.28"/><circle cx="320.76" cy="70.46" r="1.28"/><circle cx="344.36" cy="44.83" r="1.28"/><circle cx="323.24" cy="76.87" r="1.28"/><circle cx="341.80" cy="74.74" r="1.28"/><circle cx="343.70" cy="51.24" r="1.28"/><circle cx="344.86" cy="85.42" r="1.28"/><circle cx="336.52" cy="93.96" r="1.28"/><circle cx="333.34" cy="49.10" r="1.28"/><circle cx="338.73" cy="64.06" r="1.28"/><circle cx="332.95" cy="59.78" r="1.28"/><circle cx="327.07" cy="59.78" r="1.28"/><circle cx="348.67" cy="55.51" r="1.28"/><circle cx="330.40" cy="76.87" r="1.28"/><circle cx="353.27" cy="70.46" r="1.28"/><circle cx="342.38" cy="85.42" r="1.28"/><circle cx="334.14" cy="66.19" r="1.28"/><circle cx="341.72" cy="66.19" r="1.28"/><circle cx="348.46" cy="74.74" r="1.28"/><circle cx="326.28" cy="59.78" r="1.28"/><circle cx="330.12" cy="40.56" r="1.28"/><circle cx="329.08" cy="85.42" r="1.28"/><circle cx="339.40" cy="55.51" r="1.28"/><circle cx="341.44" cy="55.51" r="1.28"/><circle cx="338.25" cy="53.38" r="1.28"/><circle cx="331.81" cy="81.14" r="1.28"/><circle cx="333.51" cy="51.24" r="1.28"/><circle cx="348.09" cy="59.78" r="1.28"/><circle cx="347.49" cy="70.46" r="1.28"/><circle cx="339.12" cy="72.60" r="1.28"/><circle cx="326.86" cy="64.06" r="1.28"/><circle cx="343.34" cy="53.38" r="1.28"/><circle cx="340.45" cy="55.51" r="1.28"/><circle cx="340.15" cy="40.56" r="1.28"/><circle cx="352.71" cy="72.60" r="1.28"/><circle cx="344.97" cy="59.78" r="1.28"/><circle cx="329.72" cy="74.74" r="1.28"/><circle cx="329.80" cy="55.51" r="1.28"/><circle cx="349.73" cy="66.19" r="1.28"/><circle cx="339.75" cy="76.87" r="1.28"/><circle cx="345.54" cy="87.55" r="1.28"/><circle cx="337.10" cy="79.01" r="1.28"/><circle cx="329.93" cy="64.06" r="1.28"/><circle cx="340.76" cy="46.97" r="1.28"/><circle cx="351.76" cy="55.51" r="1.28"/><circle cx="341.39" cy="85.42" r="1.28"/><circle cx="328.94" cy="74.74" r="1.28"/><circle cx="335.91" cy="68.33" r="1.28"/><circle cx="334.36" cy="70.46" r="1.28"/><circle cx="340.10" cy="68.33" r="1.28"/><circle cx="347.33" cy="57.65" r="1.28"/><circle cx="355.46" cy="66.19" r="1.28"/><circle cx="340.67" cy="79.01" r="1.28"/><circle cx="335.14" cy="98.23" r="1.28"/><circle cx="339.46" cy="74.74" r="1.28"/><circle cx="338.94" cy="93.96" r="1.28"/><circle cx="335.20" cy="72.60" r="1.28"/><circle cx="339.01" cy="64.06" r="1.28"/><circle cx="338.81" cy="89.69" r="1.28"/><circle cx="328.82" cy="72.60" r="1.28"/><circle cx="343.47" cy="74.74" r="1.28"/><circle cx="335.73" cy="42.70" r="1.28"/><circle cx="330.45" cy="64.06" r="1.28"/><circle cx="342.98" cy="98.23" r="1.28"/><circle cx="334.67" cy="64.06" r="1.28"/><circle cx="353.63" cy="64.06" r="1.28"/><circle cx="342.85" cy="74.74" r="1.28"/><circle cx="339.43" cy="76.87" r="1.28"/><circle cx="332.34" cy="61.92" r="1.28"/><circle cx="335.29" cy="61.92" r="1.28"/><circle cx="345.95" cy="64.06" r="1.28"/><circle cx="332.88" cy="85.42" r="1.28"/><circle cx="345.17" cy="74.74" r="1.28"/><circle cx="320.85" cy="93.96" r="1.28"/><circle cx="340.38" cy="93.96" r="1.28"/><circle cx="345.61" cy="79.01" r="1.28"/><circle cx="341.54" cy="87.55" r="1.28"/></g>
<polygon points="304.70,76.40 307.14,76.98 309.58,77.57 312.02,78.15 314.46,78.72 316.91,79.29 319.35,79.86 321.79,80.41 324.23,80.96 326.67,81.50 329.11,82.02 331.55,82.51 333.99,82.98 336.43,83.42 338.87,83.82 341.32,84.18 343.76,84.49 346.20,84.76 348.64,85.00 351.08,85.21 353.52,85.39 355.96,85.56 358.40,85.72 360.84,85.87 363.28,86.01 365.73,86.15 368.17,86.28 370.61,86.41 373.05,86.53 375.49,86.65 377.93,86.77 380.37,86.89 382.81,87.01 385.25,87.12 387.69,87.24 390.14,87.35 392.58,87.47 395.02,87.58 397.46,87.69 399.90,87.80 399.90,100.60 397.46,99.99 395.02,99.39 392.58,98.78 390.14,98.18 387.69,97.57 385.25,96.97 382.81,96.37 380.37,95.76 377.93,95.16 375.49,94.57 373.05,93.97 370.61,93.38 368.17,92.79 365.73,92.20 363.28,91.62 360.84,91.04 358.40,90.47 355.96,89.91 353.52,89.37 351.08,88.84 348.64,88.33 346.20,87.84 343.76,87.40 341.32,86.99 338.87,86.63 336.43,86.31 333.99,86.03 331.55,85.78 329.11,85.56 326.67,85.36 324.23,85.18 321.79,85.01 319.35,84.85 316.91,84.70 314.46,84.55 312.02,84.41 309.58,84.27 307.14,84.13 304.70,84.00" fill="#4c72b0" fill-opacity="0.13"/>
<line x1="304.7" y1="80.2" x2="399.9" y2="94.2" stroke="#4c72b0" stroke-width="1.15"/>
<text x="342.90" y="27.2" font-size="6.3" fill="#2e2e2e" textLength="54.4" lengthAdjust="spacingAndGlyphs"><tspan font-style="italic">r</tspan> = − 0.10, <tspan font-style="italic">p</tspan> = 0.04</text>
<text x="310.00" y="140.60" font-size="6.2" text-anchor="middle" fill="#2e2e2e" >0.0</text>
<text x="337.04" y="140.60" font-size="6.2" text-anchor="middle" fill="#2e2e2e" >0.2</text>
<text x="364.08" y="140.60" font-size="6.2" text-anchor="middle" fill="#2e2e2e" >0.4</text>
<text x="391.12" y="140.60" font-size="6.2" text-anchor="middle" fill="#2e2e2e" >0.6</text>
<text x="296.00" y="128.10" font-size="6.2" text-anchor="end" fill="#2e2e2e" >0</text>
<text x="296.00" y="106.74" font-size="6.2" text-anchor="end" fill="#2e2e2e" >10</text>
<text x="296.00" y="85.38" font-size="6.2" text-anchor="end" fill="#2e2e2e" >20</text>
<text x="296.00" y="64.02" font-size="6.2" text-anchor="end" fill="#2e2e2e" >30</text>
<text x="296.00" y="42.66" font-size="6.2" text-anchor="end" fill="#2e2e2e" >40</text>
<text x="296.00" y="21.30" font-size="6.2" text-anchor="end" fill="#2e2e2e" >50</text>
<text x="352.70" y="149.20" font-size="6.75" text-anchor="middle" fill="#2e2e2e" >Physical engagement (partner)</text>
<text x="0.00" y="0.00" font-size="6.6" text-anchor="middle" fill="#2e2e2e" transform="translate(285.40,72.25) rotate(-90)">Depression score</text>
<text x="288.60" y="12.30" font-size="13.5" text-anchor="start" fill="#000" style="stroke:#000;stroke-width:0.35px">c</text>
<line x1="445.90" y1="14.30" x2="445.90" y2="131.20" stroke="#d6d6d6" stroke-width="0.8"/>
<line x1="472.94" y1="14.30" x2="472.94" y2="131.20" stroke="#d6d6d6" stroke-width="0.8"/>
<line x1="499.98" y1="14.30" x2="499.98" y2="131.20" stroke="#d6d6d6" stroke-width="0.8"/>
<line x1="527.02" y1="14.30" x2="527.02" y2="131.20" stroke="#d6d6d6" stroke-width="0.8"/>
<line x1="436.30" y1="126.50" x2="540.90" y2="126.50" stroke="#d6d6d6" stroke-width="0.8"/>
<line x1="436.30" y1="104.60" x2="540.90" y2="104.60" stroke="#d6d6d6" stroke-width="0.8"/>
<line x1="436.30" y1="82.70" x2="540.90" y2="82.70" stroke="#d6d6d6" stroke-width="0.8"/>
<line x1="436.30" y1="60.80" x2="540.90" y2="60.80" stroke="#d6d6d6" stroke-width="0.8"/>
<line x1="436.30" y1="38.90" x2="540.90" y2="38.90" stroke="#d6d6d6" stroke-width="0.8"/>
<line x1="436.30" y1="17.00" x2="540.90" y2="17.00" stroke="#d6d6d6" stroke-width="0.8"/>
<rect x="436.30" y="14.30" width="104.60" height="116.90" fill="none" stroke="#cfcfcf" stroke-width="0.9"/>
<g fill="#4c72b0" fill-opacity="0.85"><circle cx="441.00" cy="19.90" r="1.28"/><circle cx="470.30" cy="29.90" r="1.28"/><circle cx="465.30" cy="38.20" r="1.28"/><circle cx="452.40" cy="53.30" r="1.28"/><circle cx="451.90" cy="59.50" r="1.28"/><circle cx="465.30" cy="50.00" r="1.28"/><circle cx="479.80" cy="48.30" r="1.28"/><circle cx="487.00" cy="53.80" r="1.28"/><circle cx="468.60" cy="55.80" r="1.28"/><circle cx="471.10" cy="57.80" r="1.28"/><circle cx="479.80" cy="56.60" r="1.28"/><circle cx="483.70" cy="57.50" r="1.28"/><circle cx="473.60" cy="59.50" r="1.28"/><circle cx="476.10" cy="60.50" r="1.28"/><circle cx="491.20" cy="59.20" r="1.28"/><circle cx="493.70" cy="58.30" r="1.28"/><circle cx="466.10" cy="60.80" r="1.28"/><circle cx="462.80" cy="63.30" r="1.28"/><circle cx="489.50" cy="60.80" r="1.28"/><circle cx="499.60" cy="50.00" r="1.28"/><circle cx="487.00" cy="53.40" r="1.28"/><circle cx="483.70" cy="57.10" r="1.28"/><circle cx="492.00" cy="58.40" r="1.28"/><circle cx="493.70" cy="62.60" r="1.28"/><circle cx="487.90" cy="60.10" r="1.28"/><circle cx="488.70" cy="61.40" r="1.28"/><circle cx="484.50" cy="61.40" r="1.28"/><circle cx="485.30" cy="64.20" r="1.28"/><circle cx="510.10" cy="64.70" r="1.28"/><circle cx="499.60" cy="69.30" r="1.28"/><circle cx="492.00" cy="70.90" r="1.28"/><circle cx="500.40" cy="76.00" r="1.28"/><circle cx="504.60" cy="73.40" r="1.28"/><circle cx="507.90" cy="76.00" r="1.28"/><circle cx="506.70" cy="79.80" r="1.28"/><circle cx="507.40" cy="81.50" r="1.28"/><circle cx="516.30" cy="82.60" r="1.28"/><circle cx="517.10" cy="88.50" r="1.28"/><circle cx="495.40" cy="83.50" r="1.28"/><circle cx="497.10" cy="85.20" r="1.28"/><circle cx="492.00" cy="80.10" r="1.28"/><circle cx="493.70" cy="79.30" r="1.28"/><circle cx="447.10" cy="89.20" r="1.28"/><circle cx="451.20" cy="86.70" r="1.28"/><circle cx="454.70" cy="86.00" r="1.28"/><circle cx="457.60" cy="74.00" r="1.28"/><circle cx="460.60" cy="73.50" r="1.28"/><circle cx="461.10" cy="67.60" r="1.28"/><circle cx="464.00" cy="68.80" r="1.28"/><circle cx="452.40" cy="60.00" r="1.28"/><circle cx="447.00" cy="89.40" r="1.28"/><circle cx="451.70" cy="86.60" r="1.28"/><circle cx="447.00" cy="100.70" r="1.28"/><circle cx="448.20" cy="101.00" r="1.28"/><circle cx="456.40" cy="96.00" r="1.28"/><circle cx="456.40" cy="100.70" r="1.28"/><circle cx="457.20" cy="104.60" r="1.28"/><circle cx="461.10" cy="103.10" r="1.28"/><circle cx="465.00" cy="105.40" r="1.28"/><circle cx="468.20" cy="107.00" r="1.28"/><circle cx="469.00" cy="103.50" r="1.28"/><circle cx="473.70" cy="109.30" r="1.28"/><circle cx="478.40" cy="114.00" r="1.28"/><circle cx="476.00" cy="119.90" r="1.28"/><circle cx="478.40" cy="119.50" r="1.28"/><circle cx="482.30" cy="116.40" r="1.28"/><circle cx="485.50" cy="118.80" r="1.28"/><circle cx="486.20" cy="122.70" r="1.28"/><circle cx="491.00" cy="126.10" r="1.28"/><circle cx="487.80" cy="114.00" r="1.28"/><circle cx="494.10" cy="110.10" r="1.28"/><circle cx="510.30" cy="89.40" r="1.28"/><circle cx="517.30" cy="88.50" r="1.28"/><circle cx="515.80" cy="92.80" r="1.28"/><circle cx="524.40" cy="93.60" r="1.28"/><circle cx="512.60" cy="95.20" r="1.28"/><circle cx="519.70" cy="95.70" r="1.28"/><circle cx="518.90" cy="100.70" r="1.28"/><circle cx="505.50" cy="104.60" r="1.28"/><circle cx="507.10" cy="104.20" r="1.28"/><circle cx="504.00" cy="97.60" r="1.28"/><circle cx="506.30" cy="98.80" r="1.28"/><circle cx="500.80" cy="100.70" r="1.28"/><circle cx="501.60" cy="102.00" r="1.28"/><circle cx="495.30" cy="105.40" r="1.28"/><circle cx="493.80" cy="105.10" r="1.28"/><circle cx="493.00" cy="110.10" r="1.28"/><circle cx="496.90" cy="110.10" r="1.28"/><circle cx="496.90" cy="115.60" r="1.28"/><circle cx="500.10" cy="116.40" r="1.28"/><circle cx="488.30" cy="114.00" r="1.28"/><circle cx="515.30" cy="115.60" r="1.28"/><circle cx="536.20" cy="116.70" r="1.28"/><circle cx="485.10" cy="119.20" r="1.28"/><circle cx="486.70" cy="122.70" r="1.28"/><circle cx="499.30" cy="123.00" r="1.28"/><circle cx="491.10" cy="126.10" r="1.28"/><circle cx="482.80" cy="115.60" r="1.28"/><circle cx="508.00" cy="75.70" r="1.28"/><circle cx="506.70" cy="80.40" r="1.28"/><circle cx="507.40" cy="81.70" r="1.28"/><circle cx="516.40" cy="82.80" r="1.28"/><circle cx="510.00" cy="89.10" r="1.28"/><circle cx="517.40" cy="88.40" r="1.28"/><circle cx="501.30" cy="88.40" r="1.28"/><circle cx="502.70" cy="89.10" r="1.28"/><circle cx="516.40" cy="92.80" r="1.28"/><circle cx="512.10" cy="94.00" r="1.28"/><circle cx="524.10" cy="94.00" r="1.28"/><circle cx="519.80" cy="96.40" r="1.28"/><circle cx="505.40" cy="97.80" r="1.28"/><circle cx="506.70" cy="99.10" r="1.28"/><circle cx="512.70" cy="99.80" r="1.28"/><circle cx="518.10" cy="101.10" r="1.28"/><circle cx="501.30" cy="100.50" r="1.28"/><circle cx="502.00" cy="98.50" r="1.28"/><circle cx="505.40" cy="105.20" r="1.28"/><circle cx="508.00" cy="104.20" r="1.28"/><circle cx="462.72" cy="89.17" r="1.28"/><circle cx="466.14" cy="94.04" r="1.28"/><circle cx="465.93" cy="88.14" r="1.28"/><circle cx="474.51" cy="85.92" r="1.28"/><circle cx="457.84" cy="92.44" r="1.28"/><circle cx="475.89" cy="87.11" r="1.28"/><circle cx="469.36" cy="89.25" r="1.28"/><circle cx="485.10" cy="69.28" r="1.28"/><circle cx="485.63" cy="69.32" r="1.28"/><circle cx="489.33" cy="106.15" r="1.28"/><circle cx="484.02" cy="70.25" r="1.28"/><circle cx="477.05" cy="92.36" r="1.28"/><circle cx="484.81" cy="90.52" r="1.28"/><circle cx="490.30" cy="89.45" r="1.28"/><circle cx="471.94" cy="79.37" r="1.28"/><circle cx="482.69" cy="98.17" r="1.28"/><circle cx="477.14" cy="90.86" r="1.28"/><circle cx="489.74" cy="83.24" r="1.28"/><circle cx="470.39" cy="71.52" r="1.28"/><circle cx="474.94" cy="84.47" r="1.28"/><circle cx="480.58" cy="80.41" r="1.28"/><circle cx="479.69" cy="73.16" r="1.28"/><circle cx="463.56" cy="91.19" r="1.28"/><circle cx="480.56" cy="93.41" r="1.28"/><circle cx="476.49" cy="96.19" r="1.28"/><circle cx="475.46" cy="88.37" r="1.28"/><circle cx="476.18" cy="84.38" r="1.28"/><circle cx="479.36" cy="99.64" r="1.28"/><circle cx="462.06" cy="95.62" r="1.28"/><circle cx="490.70" cy="112.53" r="1.28"/><circle cx="470.18" cy="93.35" r="1.28"/><circle cx="458.45" cy="76.90" r="1.28"/><circle cx="476.80" cy="97.87" r="1.28"/><circle cx="489.89" cy="112.93" r="1.28"/><circle cx="473.09" cy="90.29" r="1.28"/><circle cx="490.69" cy="85.28" r="1.28"/><circle cx="490.73" cy="80.74" r="1.28"/><circle cx="470.17" cy="108.38" r="1.28"/><circle cx="456.55" cy="85.31" r="1.28"/><circle cx="467.00" cy="84.68" r="1.28"/><circle cx="487.59" cy="90.76" r="1.28"/><circle cx="470.56" cy="71.76" r="1.28"/><circle cx="464.66" cy="84.44" r="1.28"/><circle cx="466.13" cy="73.49" r="1.28"/><circle cx="477.50" cy="85.91" r="1.28"/><circle cx="477.28" cy="92.97" r="1.28"/><circle cx="484.91" cy="97.72" r="1.28"/><circle cx="485.91" cy="82.91" r="1.28"/><circle cx="469.58" cy="96.58" r="1.28"/><circle cx="476.17" cy="83.22" r="1.28"/><circle cx="467.86" cy="69.32" r="1.28"/><circle cx="478.11" cy="93.88" r="1.28"/><circle cx="467.72" cy="85.31" r="1.28"/><circle cx="467.30" cy="88.81" r="1.28"/><circle cx="495.55" cy="58.74" r="1.28"/><circle cx="477.78" cy="90.01" r="1.28"/><circle cx="482.97" cy="90.42" r="1.28"/><circle cx="499.07" cy="90.43" r="1.28"/><circle cx="484.18" cy="99.20" r="1.28"/><circle cx="476.53" cy="83.77" r="1.28"/><circle cx="477.96" cy="111.46" r="1.28"/><circle cx="471.17" cy="95.83" r="1.28"/><circle cx="486.80" cy="93.86" r="1.28"/><circle cx="474.69" cy="60.36" r="1.28"/><circle cx="492.48" cy="66.18" r="1.28"/><circle cx="474.57" cy="104.43" r="1.28"/><circle cx="474.49" cy="92.24" r="1.28"/><circle cx="473.94" cy="98.22" r="1.28"/><circle cx="482.82" cy="83.80" r="1.28"/><circle cx="479.09" cy="86.70" r="1.28"/><circle cx="489.16" cy="94.54" r="1.28"/><circle cx="472.80" cy="79.39" r="1.28"/><circle cx="479.97" cy="102.72" r="1.28"/><circle cx="493.97" cy="75.95" r="1.28"/><circle cx="475.46" cy="90.65" r="1.28"/><circle cx="482.03" cy="85.27" r="1.28"/><circle cx="490.86" cy="92.21" r="1.28"/><circle cx="482.20" cy="102.08" r="1.28"/><circle cx="472.11" cy="76.04" r="1.28"/><circle cx="459.97" cy="93.43" r="1.28"/><circle cx="497.84" cy="89.80" r="1.28"/><circle cx="481.16" cy="97.78" r="1.28"/><circle cx="488.21" cy="88.26" r="1.28"/><circle cx="473.45" cy="83.13" r="1.28"/><circle cx="492.96" cy="94.09" r="1.28"/><circle cx="481.92" cy="103.26" r="1.28"/><circle cx="477.92" cy="97.59" r="1.28"/><circle cx="469.83" cy="90.33" r="1.28"/><circle cx="480.63" cy="93.31" r="1.28"/><circle cx="473.36" cy="71.67" r="1.28"/><circle cx="475.61" cy="82.69" r="1.28"/><circle cx="463.71" cy="85.87" r="1.28"/><circle cx="473.33" cy="82.74" r="1.28"/><circle cx="478.86" cy="80.94" r="1.28"/><circle cx="466.87" cy="88.13" r="1.28"/><circle cx="478.13" cy="93.06" r="1.28"/><circle cx="483.14" cy="110.00" r="1.28"/><circle cx="474.89" cy="80.94" r="1.28"/><circle cx="472.22" cy="78.64" r="1.28"/><circle cx="472.23" cy="99.61" r="1.28"/><circle cx="485.50" cy="90.35" r="1.28"/><circle cx="464.46" cy="78.86" r="1.28"/><circle cx="474.95" cy="105.49" r="1.28"/><circle cx="473.94" cy="86.34" r="1.28"/><circle cx="478.72" cy="85.04" r="1.28"/><circle cx="476.91" cy="81.86" r="1.28"/><circle cx="468.09" cy="78.47" r="1.28"/><circle cx="494.84" cy="89.70" r="1.28"/><circle cx="479.01" cy="78.04" r="1.28"/><circle cx="466.09" cy="115.56" r="1.28"/><circle cx="469.92" cy="92.19" r="1.28"/><circle cx="478.33" cy="85.76" r="1.28"/><circle cx="482.71" cy="79.95" r="1.28"/><circle cx="466.09" cy="91.24" r="1.28"/><circle cx="483.55" cy="99.34" r="1.28"/><circle cx="465.83" cy="91.00" r="1.28"/><circle cx="470.75" cy="75.75" r="1.28"/><circle cx="484.75" cy="85.74" r="1.28"/><circle cx="491.96" cy="69.50" r="1.28"/><circle cx="476.78" cy="104.01" r="1.28"/><circle cx="474.87" cy="95.73" r="1.28"/><circle cx="488.28" cy="90.49" r="1.28"/><circle cx="468.39" cy="91.42" r="1.28"/><circle cx="479.86" cy="81.95" r="1.28"/><circle cx="479.48" cy="86.59" r="1.28"/><circle cx="486.08" cy="98.77" r="1.28"/><circle cx="480.04" cy="87.71" r="1.28"/><circle cx="475.24" cy="94.68" r="1.28"/><circle cx="482.72" cy="90.62" r="1.28"/><circle cx="467.92" cy="90.75" r="1.28"/><circle cx="484.42" cy="91.71" r="1.28"/><circle cx="471.78" cy="99.66" r="1.28"/><circle cx="469.76" cy="85.02" r="1.28"/><circle cx="474.38" cy="95.71" r="1.28"/><circle cx="477.89" cy="79.55" r="1.28"/><circle cx="483.54" cy="81.86" r="1.28"/><circle cx="475.69" cy="80.39" r="1.28"/><circle cx="483.75" cy="97.66" r="1.28"/><circle cx="485.79" cy="84.98" r="1.28"/><circle cx="476.60" cy="101.80" r="1.28"/><circle cx="469.16" cy="77.11" r="1.28"/><circle cx="485.32" cy="92.58" r="1.28"/><circle cx="479.84" cy="75.64" r="1.28"/><circle cx="459.52" cy="100.70" r="1.28"/><circle cx="469.10" cy="80.74" r="1.28"/><circle cx="478.72" cy="93.38" r="1.28"/><circle cx="465.84" cy="80.80" r="1.28"/><circle cx="471.71" cy="79.95" r="1.28"/><circle cx="462.94" cy="91.02" r="1.28"/><circle cx="480.92" cy="69.49" r="1.28"/><circle cx="479.55" cy="75.24" r="1.28"/><circle cx="479.00" cy="104.98" r="1.28"/><circle cx="489.80" cy="79.32" r="1.28"/><circle cx="474.50" cy="97.32" r="1.28"/><circle cx="475.04" cy="78.89" r="1.28"/><circle cx="494.67" cy="70.31" r="1.28"/><circle cx="466.44" cy="83.80" r="1.28"/><circle cx="483.70" cy="97.86" r="1.28"/><circle cx="466.32" cy="88.05" r="1.28"/><circle cx="479.51" cy="85.08" r="1.28"/><circle cx="495.48" cy="97.72" r="1.28"/><circle cx="479.81" cy="79.96" r="1.28"/><circle cx="470.94" cy="96.25" r="1.28"/><circle cx="497.77" cy="91.72" r="1.28"/><circle cx="472.88" cy="76.98" r="1.28"/><circle cx="475.75" cy="98.42" r="1.28"/><circle cx="480.09" cy="100.59" r="1.28"/><circle cx="466.09" cy="85.54" r="1.28"/><circle cx="486.98" cy="89.52" r="1.28"/><circle cx="491.26" cy="85.11" r="1.28"/><circle cx="483.95" cy="75.84" r="1.28"/><circle cx="480.31" cy="96.86" r="1.28"/><circle cx="476.23" cy="77.05" r="1.28"/><circle cx="485.04" cy="93.91" r="1.28"/><circle cx="454.00" cy="82.25" r="1.28"/><circle cx="476.44" cy="76.79" r="1.28"/><circle cx="479.68" cy="94.82" r="1.28"/><circle cx="460.62" cy="90.63" r="1.28"/><circle cx="481.12" cy="108.35" r="1.28"/><circle cx="476.42" cy="87.28" r="1.28"/><circle cx="477.21" cy="89.69" r="1.28"/><circle cx="478.36" cy="89.32" r="1.28"/><circle cx="482.39" cy="85.31" r="1.28"/><circle cx="481.39" cy="102.54" r="1.28"/><circle cx="468.68" cy="104.61" r="1.28"/><circle cx="476.51" cy="95.56" r="1.28"/><circle cx="475.95" cy="77.00" r="1.28"/><circle cx="477.83" cy="93.07" r="1.28"/><circle cx="472.48" cy="88.76" r="1.28"/><circle cx="485.74" cy="83.19" r="1.28"/><circle cx="488.59" cy="71.08" r="1.28"/><circle cx="490.43" cy="97.87" r="1.28"/><circle cx="493.70" cy="101.34" r="1.28"/><circle cx="490.19" cy="91.57" r="1.28"/><circle cx="473.59" cy="93.16" r="1.28"/><circle cx="472.28" cy="107.49" r="1.28"/><circle cx="474.12" cy="109.44" r="1.28"/><circle cx="482.25" cy="90.60" r="1.28"/><circle cx="476.40" cy="57.00" r="1.28"/><circle cx="485.92" cy="95.99" r="1.28"/><circle cx="491.53" cy="89.83" r="1.28"/><circle cx="473.84" cy="95.69" r="1.28"/><circle cx="485.83" cy="82.47" r="1.28"/><circle cx="474.16" cy="77.13" r="1.28"/><circle cx="466.73" cy="93.74" r="1.28"/><circle cx="466.71" cy="84.84" r="1.28"/><circle cx="474.79" cy="89.25" r="1.28"/><circle cx="461.36" cy="92.68" r="1.28"/><circle cx="481.74" cy="89.21" r="1.28"/><circle cx="490.34" cy="72.26" r="1.28"/><circle cx="467.60" cy="94.35" r="1.28"/><circle cx="474.66" cy="82.65" r="1.28"/><circle cx="490.62" cy="85.67" r="1.28"/><circle cx="480.45" cy="92.62" r="1.28"/><circle cx="479.16" cy="71.97" r="1.28"/><circle cx="475.28" cy="84.98" r="1.28"/><circle cx="486.16" cy="67.79" r="1.28"/><circle cx="480.30" cy="81.70" r="1.28"/><circle cx="468.28" cy="91.51" r="1.28"/><circle cx="456.83" cy="86.15" r="1.28"/><circle cx="454.71" cy="84.55" r="1.28"/><circle cx="483.09" cy="93.89" r="1.28"/><circle cx="475.24" cy="83.07" r="1.28"/><circle cx="489.81" cy="69.90" r="1.28"/><circle cx="481.83" cy="99.05" r="1.28"/><circle cx="466.69" cy="89.56" r="1.28"/><circle cx="479.97" cy="95.86" r="1.28"/><circle cx="487.63" cy="82.66" r="1.28"/><circle cx="469.84" cy="82.33" r="1.28"/><circle cx="473.18" cy="78.89" r="1.28"/><circle cx="492.30" cy="65.83" r="1.28"/><circle cx="462.66" cy="81.78" r="1.28"/><circle cx="468.23" cy="80.26" r="1.28"/><circle cx="486.43" cy="104.17" r="1.28"/><circle cx="479.19" cy="65.86" r="1.28"/><circle cx="467.79" cy="87.03" r="1.28"/><circle cx="465.13" cy="84.65" r="1.28"/><circle cx="481.44" cy="85.70" r="1.28"/><circle cx="487.82" cy="84.83" r="1.28"/><circle cx="484.53" cy="88.84" r="1.28"/><circle cx="481.00" cy="95.77" r="1.28"/><circle cx="490.21" cy="68.20" r="1.28"/><circle cx="480.14" cy="95.45" r="1.28"/><circle cx="470.42" cy="83.16" r="1.28"/><circle cx="494.77" cy="75.36" r="1.28"/><circle cx="467.01" cy="65.73" r="1.28"/><circle cx="476.36" cy="66.05" r="1.28"/><circle cx="476.88" cy="85.21" r="1.28"/><circle cx="489.66" cy="73.66" r="1.28"/><circle cx="471.01" cy="73.60" r="1.28"/><circle cx="475.15" cy="80.51" r="1.28"/><circle cx="462.37" cy="86.15" r="1.28"/><circle cx="480.37" cy="80.77" r="1.28"/><circle cx="481.28" cy="73.50" r="1.28"/><circle cx="483.03" cy="79.08" r="1.28"/><circle cx="469.62" cy="84.05" r="1.28"/><circle cx="479.51" cy="74.46" r="1.28"/><circle cx="469.98" cy="95.96" r="1.28"/><circle cx="473.43" cy="100.00" r="1.28"/><circle cx="476.83" cy="100.28" r="1.28"/><circle cx="488.49" cy="82.60" r="1.28"/><circle cx="473.76" cy="82.41" r="1.28"/><circle cx="478.98" cy="76.13" r="1.28"/><circle cx="470.30" cy="101.33" r="1.28"/><circle cx="472.63" cy="81.02" r="1.28"/><circle cx="471.51" cy="110.15" r="1.28"/><circle cx="476.11" cy="63.92" r="1.28"/><circle cx="483.98" cy="88.79" r="1.28"/><circle cx="468.05" cy="91.85" r="1.28"/><circle cx="483.56" cy="86.42" r="1.28"/><circle cx="469.35" cy="92.79" r="1.28"/><circle cx="480.28" cy="108.30" r="1.28"/><circle cx="472.73" cy="85.98" r="1.28"/><circle cx="474.85" cy="95.49" r="1.28"/><circle cx="474.08" cy="81.57" r="1.28"/><circle cx="486.74" cy="72.76" r="1.28"/><circle cx="479.54" cy="74.92" r="1.28"/><circle cx="486.48" cy="95.74" r="1.28"/><circle cx="474.24" cy="90.07" r="1.28"/><circle cx="475.30" cy="70.84" r="1.28"/><circle cx="491.04" cy="90.05" r="1.28"/><circle cx="463.30" cy="93.25" r="1.28"/><circle cx="469.84" cy="92.01" r="1.28"/><circle cx="475.79" cy="99.08" r="1.28"/><circle cx="492.78" cy="70.76" r="1.28"/><circle cx="472.12" cy="76.41" r="1.28"/><circle cx="484.04" cy="75.03" r="1.28"/><circle cx="490.75" cy="88.41" r="1.28"/><circle cx="475.28" cy="101.17" r="1.28"/><circle cx="475.81" cy="82.05" r="1.28"/><circle cx="491.49" cy="90.67" r="1.28"/><circle cx="472.58" cy="96.45" r="1.28"/><circle cx="468.33" cy="81.91" r="1.28"/><circle cx="484.33" cy="95.82" r="1.28"/><circle cx="472.89" cy="85.70" r="1.28"/><circle cx="488.31" cy="106.39" r="1.28"/><circle cx="481.87" cy="102.40" r="1.28"/><circle cx="462.37" cy="82.17" r="1.28"/><circle cx="479.65" cy="81.23" r="1.28"/><circle cx="477.38" cy="107.37" r="1.28"/><circle cx="471.64" cy="77.65" r="1.28"/><circle cx="486.67" cy="99.91" r="1.28"/><circle cx="462.22" cy="82.72" r="1.28"/><circle cx="466.62" cy="74.56" r="1.28"/><circle cx="473.05" cy="106.21" r="1.28"/><circle cx="484.01" cy="92.06" r="1.28"/><circle cx="464.16" cy="75.95" r="1.28"/><circle cx="471.84" cy="84.70" r="1.28"/><circle cx="471.17" cy="79.27" r="1.28"/><circle cx="464.39" cy="76.70" r="1.28"/><circle cx="473.93" cy="86.15" r="1.28"/><circle cx="467.42" cy="99.31" r="1.28"/><circle cx="473.34" cy="71.80" r="1.28"/><circle cx="479.61" cy="92.75" r="1.28"/><circle cx="469.40" cy="71.33" r="1.28"/><circle cx="469.73" cy="86.49" r="1.28"/><circle cx="468.73" cy="71.38" r="1.28"/><circle cx="469.91" cy="72.53" r="1.28"/><circle cx="463.77" cy="79.59" r="1.28"/><circle cx="467.08" cy="97.97" r="1.28"/><circle cx="478.16" cy="96.17" r="1.28"/><circle cx="469.64" cy="85.46" r="1.28"/><circle cx="502.00" cy="83.45" r="1.28"/><circle cx="470.19" cy="88.21" r="1.28"/><circle cx="481.04" cy="116.00" r="1.28"/><circle cx="464.31" cy="90.74" r="1.28"/><circle cx="474.84" cy="85.49" r="1.28"/><circle cx="472.47" cy="81.61" r="1.28"/><circle cx="476.47" cy="83.49" r="1.28"/><circle cx="488.50" cy="93.72" r="1.28"/><circle cx="475.73" cy="93.26" r="1.28"/><circle cx="466.87" cy="60.67" r="1.28"/><circle cx="478.21" cy="109.98" r="1.28"/><circle cx="468.97" cy="91.77" r="1.28"/><circle cx="476.20" cy="85.86" r="1.28"/><circle cx="490.87" cy="116.00" r="1.28"/><circle cx="485.41" cy="69.91" r="1.28"/><circle cx="486.57" cy="73.16" r="1.28"/><circle cx="481.93" cy="99.21" r="1.28"/><circle cx="477.23" cy="86.92" r="1.28"/><circle cx="464.26" cy="96.65" r="1.28"/><circle cx="473.38" cy="100.41" r="1.28"/><circle cx="472.90" cy="107.02" r="1.28"/><circle cx="483.25" cy="94.25" r="1.28"/><circle cx="485.95" cy="79.93" r="1.28"/><circle cx="481.57" cy="68.50" r="1.28"/><circle cx="470.70" cy="88.43" r="1.28"/><circle cx="493.23" cy="67.58" r="1.28"/><circle cx="489.57" cy="87.59" r="1.28"/><circle cx="475.65" cy="78.14" r="1.28"/></g>
<polygon points="440.70,72.90 443.14,73.79 445.58,74.67 448.02,75.56 450.46,76.44 452.91,77.32 455.35,78.20 457.79,79.07 460.23,79.94 462.67,80.80 465.11,81.65 467.55,82.49 469.99,83.32 472.43,84.13 474.87,84.91 477.32,85.66 479.76,86.38 482.20,87.05 484.64,87.70 487.08,88.31 489.52,88.90 491.96,89.47 494.40,90.02 496.84,90.56 499.28,91.09 501.73,91.62 504.17,92.14 506.61,92.65 509.05,93.17 511.49,93.68 513.93,94.19 516.37,94.69 518.81,95.20 521.25,95.70 523.69,96.20 526.14,96.70 528.58,97.20 531.02,97.70 533.46,98.20 535.90,98.70 535.90,108.10 533.46,107.21 531.02,106.33 528.58,105.44 526.14,104.56 523.69,103.68 521.25,102.79 518.81,101.91 516.37,101.03 513.93,100.15 511.49,99.28 509.05,98.40 506.61,97.53 504.17,96.66 501.73,95.80 499.28,94.94 496.84,94.09 494.40,93.24 491.96,92.41 489.52,91.59 487.08,90.80 484.64,90.03 482.20,89.28 479.76,88.58 477.32,87.91 474.87,87.27 472.43,86.67 469.99,86.10 467.55,85.54 465.11,84.99 462.67,84.46 460.23,83.94 457.79,83.42 455.35,82.91 452.91,82.40 450.46,81.90 448.02,81.40 445.58,80.90 443.14,80.40 440.70,79.90" fill="#4c72b0" fill-opacity="0.13"/>
<line x1="440.7" y1="76.4" x2="535.9" y2="103.4" stroke="#4c72b0" stroke-width="1.15"/>
<text x="475.70" y="27.2" font-size="6.3" fill="#2e2e2e" textLength="57.7" lengthAdjust="spacingAndGlyphs"><tspan font-style="italic">r</tspan> = − 0.27, <tspan font-style="italic">p</tspan> &lt; 0.001</text>
<text x="445.90" y="140.60" font-size="6.2" text-anchor="middle" fill="#2e2e2e" >0.0</text>
<text x="472.94" y="140.60" font-size="6.2" text-anchor="middle" fill="#2e2e2e" >0.2</text>
<text x="499.98" y="140.60" font-size="6.2" text-anchor="middle" fill="#2e2e2e" >0.4</text>
<text x="527.02" y="140.60" font-size="6.2" text-anchor="middle" fill="#2e2e2e" >0.6</text>
<text x="431.90" y="128.60" font-size="6.2" text-anchor="end" fill="#2e2e2e" >10</text>
<text x="431.90" y="106.70" font-size="6.2" text-anchor="end" fill="#2e2e2e" >15</text>
<text x="431.90" y="84.80" font-size="6.2" text-anchor="end" fill="#2e2e2e" >20</text>
<text x="431.90" y="62.90" font-size="6.2" text-anchor="end" fill="#2e2e2e" >25</text>
<text x="431.90" y="41.00" font-size="6.2" text-anchor="end" fill="#2e2e2e" >30</text>
<text x="431.90" y="19.10" font-size="6.2" text-anchor="end" fill="#2e2e2e" >35</text>
<text x="488.60" y="149.20" font-size="6.75" text-anchor="middle" fill="#2e2e2e" >Physical engagement (partner)</text>
<text x="0.00" y="0.00" font-size="6.6" text-anchor="middle" fill="#2e2e2e" transform="translate(421.30,72.25) rotate(-90)">Depression score (partner)</text>
<text x="424.40" y="12.30" font-size="13.5" text-anchor="start" fill="#000" style="stroke:#000;stroke-width:0.35px">d</text>
<line x1="53.30" y1="160.50" x2="53.30" y2="277.60" stroke="#d6d6d6" stroke-width="0.8"/>
<line x1="78.30" y1="160.50" x2="78.30" y2="277.60" stroke="#d6d6d6" stroke-width="0.8"/>
<line x1="103.30" y1="160.50" x2="103.30" y2="277.60" stroke="#d6d6d6" stroke-width="0.8"/>
<line x1="128.30" y1="160.50" x2="128.30" y2="277.60" stroke="#d6d6d6" stroke-width="0.8"/>
<line x1="28.90" y1="178.50" x2="133.50" y2="178.50" stroke="#d6d6d6" stroke-width="0.8"/>
<line x1="28.90" y1="200.60" x2="133.50" y2="200.60" stroke="#d6d6d6" stroke-width="0.8"/>
<line x1="28.90" y1="222.70" x2="133.50" y2="222.70" stroke="#d6d6d6" stroke-width="0.8"/>
<line x1="28.90" y1="244.80" x2="133.50" y2="244.80" stroke="#d6d6d6" stroke-width="0.8"/>
<line x1="28.90" y1="266.90" x2="133.50" y2="266.90" stroke="#d6d6d6" stroke-width="0.8"/>
<rect x="28.90" y="160.50" width="104.60" height="117.10" fill="none" stroke="#cfcfcf" stroke-width="0.9"/>
<polygon points="33.30,183.60 62.00,183.60 68.00,181.00 85.00,181.50 90.00,183.50 96.00,185.80 103.00,188.00 128.30,188.30 128.30,213.20 95.00,213.20 80.00,211.00 74.10,210.40 64.80,212.40 56.70,213.70 53.40,216.40 51.40,220.40 49.40,223.70 47.40,225.10 43.40,226.40 40.70,227.10 39.40,230.80 33.30,231.00" fill="#4c72b0" fill-opacity="0.2"/>
<polyline points="33.30,207.70 38.00,206.40 41.40,204.60 48.00,207.00 53.40,203.70 58.70,201.00 64.80,199.70 72.80,197.00 80.00,197.40 85.00,197.60 90.00,199.60 100.00,200.00 110.00,200.50 117.70,201.40 123.00,201.00 128.30,200.10" fill="none" stroke="#4c72b0" stroke-width="1.05" stroke-opacity="0.85" stroke-linejoin="round"/>
<polyline points="33.30,205.70 36.70,204.60 40.00,205.00 48.00,211.70 56.70,210.40 64.80,209.00 72.80,208.40 80.00,209.00 85.20,210.10 100.20,211.40 108.00,212.00 115.20,213.10 122.00,213.00 128.30,211.90" fill="none" stroke="#e29d78" stroke-width="1.05" stroke-linejoin="round"/>
<line x1="28.90" y1="200.60" x2="133.50" y2="200.60" stroke="#111" stroke-width="1" stroke-dasharray="2.2,1.6"/>
<rect x="33.90" y="163.80" width="96.4" height="19.2" rx="1.5" fill="#fff" fill-opacity="0.8" stroke="#d8d8d8" stroke-width="0.6"/>
<line x1="36.50" y1="168.6" x2="49.50" y2="168.6" stroke="#4c72b0" stroke-width="1.1"/>
<line x1="36.50" y1="177.9" x2="49.50" y2="177.9" stroke="#e29d78" stroke-width="1.1"/>
<text x="54.70" y="170.90" font-size="6.8" text-anchor="start" fill="#2e2e2e" textLength="73.2" lengthAdjust="spacingAndGlyphs" >within each organizaion</text>
<text x="54.70" y="180.20" font-size="6.8" text-anchor="start" fill="#2e2e2e" textLength="33.1" lengthAdjust="spacingAndGlyphs" >entire data</text>
<text x="53.30" y="287.60" font-size="7.0" text-anchor="middle" fill="#2e2e2e" >5</text>
<text x="78.30" y="287.60" font-size="7.0" text-anchor="middle" fill="#2e2e2e" >10</text>
<text x="103.30" y="287.60" font-size="7.0" text-anchor="middle" fill="#2e2e2e" >15</text>
<text x="128.30" y="287.60" font-size="7.0" text-anchor="middle" fill="#2e2e2e" >20</text>
<text x="23.50" y="180.90" font-size="6.6" text-anchor="end" fill="#2e2e2e" textLength="9.0" lengthAdjust="spacingAndGlyphs" >0.1</text>
<text x="23.50" y="203.00" font-size="6.6" text-anchor="end" fill="#2e2e2e" textLength="9.0" lengthAdjust="spacingAndGlyphs" >0.0</text>
<text x="23.50" y="225.10" font-size="6.6" text-anchor="end" fill="#2e2e2e" textLength="14.0" lengthAdjust="spacingAndGlyphs" >−0.1</text>
<text x="23.50" y="247.20" font-size="6.6" text-anchor="end" fill="#2e2e2e" textLength="14.0" lengthAdjust="spacingAndGlyphs" >−0.2</text>
<text x="23.50" y="269.30" font-size="6.6" text-anchor="end" fill="#2e2e2e" textLength="14.0" lengthAdjust="spacingAndGlyphs" >−0.3</text>
<text x="81.20" y="296.00" font-size="7.6" text-anchor="middle" fill="#2e2e2e" textLength="117" lengthAdjust="spacingAndGlyphs" >The number of interaction partners</text>
<text x="0.00" y="0.00" font-size="7.5" text-anchor="middle" fill="#2e2e2e" transform="translate(5.70,219.45) rotate(-90)" font-style="italic">r</text>
<text x="19.20" y="159.40" font-size="13.5" text-anchor="start" fill="#000" style="stroke:#000;stroke-width:0.35px">e</text>
<line x1="189.10" y1="160.50" x2="189.10" y2="277.60" stroke="#d6d6d6" stroke-width="0.8"/>
<line x1="214.10" y1="160.50" x2="214.10" y2="277.60" stroke="#d6d6d6" stroke-width="0.8"/>
<line x1="239.10" y1="160.50" x2="239.10" y2="277.60" stroke="#d6d6d6" stroke-width="0.8"/>
<line x1="264.10" y1="160.50" x2="264.10" y2="277.60" stroke="#d6d6d6" stroke-width="0.8"/>
<line x1="164.70" y1="178.50" x2="269.30" y2="178.50" stroke="#d6d6d6" stroke-width="0.8"/>
<line x1="164.70" y1="200.60" x2="269.30" y2="200.60" stroke="#d6d6d6" stroke-width="0.8"/>
<line x1="164.70" y1="222.70" x2="269.30" y2="222.70" stroke="#d6d6d6" stroke-width="0.8"/>
<line x1="164.70" y1="244.80" x2="269.30" y2="244.80" stroke="#d6d6d6" stroke-width="0.8"/>
<line x1="164.70" y1="266.90" x2="269.30" y2="266.90" stroke="#d6d6d6" stroke-width="0.8"/>
<rect x="164.70" y="160.50" width="104.60" height="117.10" fill="none" stroke="#cfcfcf" stroke-width="0.9"/>
<polygon points="169.30,195.00 172.50,203.00 175.00,210.50 178.00,212.50 182.70,213.50 192.20,213.60 198.80,218.50 203.70,221.00 208.00,219.50 215.10,217.40 225.00,215.50 238.00,214.00 250.00,215.00 264.30,215.50 264.30,265.20 251.50,264.50 240.00,266.00 222.80,267.00 214.00,267.50 205.60,269.00 198.00,272.80 190.30,270.90 185.40,268.50 180.80,267.00 178.00,263.00 175.00,257.50 172.50,249.00 169.30,246.50" fill="#4c72b0" fill-opacity="0.2"/>
<polyline points="169.30,216.80 174.70,227.10 178.70,234.80 182.70,233.80 185.50,234.20 190.70,236.80 198.00,243.00 207.50,244.20 210.50,244.50 215.10,241.50 226.00,240.50 238.00,239.60 264.30,240.20" fill="none" stroke="#4c72b0" stroke-width="1.05" stroke-opacity="0.85" stroke-linejoin="round"/>
<polyline points="169.30,218.00 174.70,231.10 179.00,241.00 185.40,242.80 190.70,245.60 198.00,251.80 204.10,254.80 209.40,255.60 214.00,254.40 222.80,253.90 238.00,255.60 264.30,257.40" fill="none" stroke="#e29d78" stroke-width="1.05" stroke-linejoin="round"/>
<line x1="164.70" y1="200.60" x2="269.30" y2="200.60" stroke="#111" stroke-width="1" stroke-dasharray="2.2,1.6"/>
<rect x="169.70" y="163.80" width="96.4" height="19.2" rx="1.5" fill="#fff" fill-opacity="0.8" stroke="#d8d8d8" stroke-width="0.6"/>
<line x1="172.30" y1="168.6" x2="185.30" y2="168.6" stroke="#4c72b0" stroke-width="1.1"/>
<line x1="172.30" y1="177.9" x2="185.30" y2="177.9" stroke="#e29d78" stroke-width="1.1"/>
<text x="190.50" y="170.90" font-size="6.8" text-anchor="start" fill="#2e2e2e" textLength="73.2" lengthAdjust="spacingAndGlyphs" >within each organizaion</text>
<text x="190.50" y="180.20" font-size="6.8" text-anchor="start" fill="#2e2e2e" textLength="33.1" lengthAdjust="spacingAndGlyphs" >entire data</text>
<text x="189.10" y="287.60" font-size="7.0" text-anchor="middle" fill="#2e2e2e" >5</text>
<text x="214.10" y="287.60" font-size="7.0" text-anchor="middle" fill="#2e2e2e" >10</text>
<text x="239.10" y="287.60" font-size="7.0" text-anchor="middle" fill="#2e2e2e" >15</text>
<text x="264.10" y="287.60" font-size="7.0" text-anchor="middle" fill="#2e2e2e" >20</text>
<text x="159.30" y="180.90" font-size="6.6" text-anchor="end" fill="#2e2e2e" textLength="9.0" lengthAdjust="spacingAndGlyphs" >0.1</text>
<text x="159.30" y="203.00" font-size="6.6" text-anchor="end" fill="#2e2e2e" textLength="9.0" lengthAdjust="spacingAndGlyphs" >0.0</text>
<text x="159.30" y="225.10" font-size="6.6" text-anchor="end" fill="#2e2e2e" textLength="14.0" lengthAdjust="spacingAndGlyphs" >−0.1</text>
<text x="159.30" y="247.20" font-size="6.6" text-anchor="end" fill="#2e2e2e" textLength="14.0" lengthAdjust="spacingAndGlyphs" >−0.2</text>
<text x="159.30" y="269.30" font-size="6.6" text-anchor="end" fill="#2e2e2e" textLength="14.0" lengthAdjust="spacingAndGlyphs" >−0.3</text>
<text x="217.00" y="296.00" font-size="7.6" text-anchor="middle" fill="#2e2e2e" textLength="117" lengthAdjust="spacingAndGlyphs" >The number of interaction partners</text>
<text x="0.00" y="0.00" font-size="7.5" text-anchor="middle" fill="#2e2e2e" transform="translate(141.50,219.45) rotate(-90)" font-style="italic">r</text>
<text x="157.60" y="159.40" font-size="13.5" text-anchor="start" fill="#000" style="stroke:#000;stroke-width:0.35px">f</text>
<line x1="324.80" y1="160.50" x2="324.80" y2="277.60" stroke="#d6d6d6" stroke-width="0.8"/>
<line x1="349.80" y1="160.50" x2="349.80" y2="277.60" stroke="#d6d6d6" stroke-width="0.8"/>
<line x1="374.80" y1="160.50" x2="374.80" y2="277.60" stroke="#d6d6d6" stroke-width="0.8"/>
<line x1="399.80" y1="160.50" x2="399.80" y2="277.60" stroke="#d6d6d6" stroke-width="0.8"/>
<line x1="300.40" y1="178.50" x2="405.00" y2="178.50" stroke="#d6d6d6" stroke-width="0.8"/>
<line x1="300.40" y1="200.60" x2="405.00" y2="200.60" stroke="#d6d6d6" stroke-width="0.8"/>
<line x1="300.40" y1="222.70" x2="405.00" y2="222.70" stroke="#d6d6d6" stroke-width="0.8"/>
<line x1="300.40" y1="244.80" x2="405.00" y2="244.80" stroke="#d6d6d6" stroke-width="0.8"/>
<line x1="300.40" y1="266.90" x2="405.00" y2="266.90" stroke="#d6d6d6" stroke-width="0.8"/>
<rect x="300.40" y="160.50" width="104.60" height="117.10" fill="none" stroke="#cfcfcf" stroke-width="0.9"/>
<polygon points="305.00,192.20 308.50,188.90 320.20,188.20 322.60,189.80 330.80,191.70 350.00,192.00 358.00,192.90 360.90,193.50 371.70,190.90 382.60,189.80 391.30,188.30 400.00,189.10 400.00,237.00 382.60,238.70 371.70,239.10 360.90,238.70 350.00,237.00 344.80,236.20 339.00,233.90 333.10,226.80 327.30,220.30 322.60,223.30 320.20,219.80 310.90,225.70 307.40,231.50 305.00,245.60" fill="#4c72b0" fill-opacity="0.2"/>
<polyline points="305.00,222.20 309.70,212.30 314.40,210.00 320.20,203.40 325.60,208.60 329.60,206.20 336.60,210.40 344.80,214.00 350.70,214.70 359.80,215.90 371.70,213.70 382.60,213.00 400.00,212.20" fill="none" stroke="#4c72b0" stroke-width="1.05" stroke-opacity="0.85" stroke-linejoin="round"/>
<polyline points="305.00,218.60 309.70,216.30 320.20,211.60 325.60,217.00 333.10,217.50 343.70,222.60 350.70,222.90 358.70,225.70 371.70,223.50 400.00,223.00" fill="none" stroke="#e29d78" stroke-width="1.05" stroke-linejoin="round"/>
<line x1="300.40" y1="200.60" x2="405.00" y2="200.60" stroke="#111" stroke-width="1" stroke-dasharray="2.2,1.6"/>
<rect x="305.40" y="163.80" width="96.4" height="19.2" rx="1.5" fill="#fff" fill-opacity="0.8" stroke="#d8d8d8" stroke-width="0.6"/>
<line x1="308.00" y1="168.6" x2="321.00" y2="168.6" stroke="#4c72b0" stroke-width="1.1"/>
<line x1="308.00" y1="177.9" x2="321.00" y2="177.9" stroke="#e29d78" stroke-width="1.1"/>
<text x="326.20" y="170.90" font-size="6.8" text-anchor="start" fill="#2e2e2e" textLength="73.2" lengthAdjust="spacingAndGlyphs" >within each organizaion</text>
<text x="326.20" y="180.20" font-size="6.8" text-anchor="start" fill="#2e2e2e" textLength="33.1" lengthAdjust="spacingAndGlyphs" >entire data</text>
<text x="324.80" y="287.60" font-size="7.0" text-anchor="middle" fill="#2e2e2e" >5</text>
<text x="349.80" y="287.60" font-size="7.0" text-anchor="middle" fill="#2e2e2e" >10</text>
<text x="374.80" y="287.60" font-size="7.0" text-anchor="middle" fill="#2e2e2e" >15</text>
<text x="399.80" y="287.60" font-size="7.0" text-anchor="middle" fill="#2e2e2e" >20</text>
<text x="295.00" y="180.90" font-size="6.6" text-anchor="end" fill="#2e2e2e" textLength="9.0" lengthAdjust="spacingAndGlyphs" >0.1</text>
<text x="295.00" y="203.00" font-size="6.6" text-anchor="end" fill="#2e2e2e" textLength="9.0" lengthAdjust="spacingAndGlyphs" >0.0</text>
<text x="295.00" y="225.10" font-size="6.6" text-anchor="end" fill="#2e2e2e" textLength="14.0" lengthAdjust="spacingAndGlyphs" >−0.1</text>
<text x="295.00" y="247.20" font-size="6.6" text-anchor="end" fill="#2e2e2e" textLength="14.0" lengthAdjust="spacingAndGlyphs" >−0.2</text>
<text x="295.00" y="269.30" font-size="6.6" text-anchor="end" fill="#2e2e2e" textLength="14.0" lengthAdjust="spacingAndGlyphs" >−0.3</text>
<text x="352.70" y="296.00" font-size="7.6" text-anchor="middle" fill="#2e2e2e" textLength="117" lengthAdjust="spacingAndGlyphs" >The number of interaction partners</text>
<text x="0.00" y="0.00" font-size="7.5" text-anchor="middle" fill="#2e2e2e" transform="translate(277.20,219.45) rotate(-90)" font-style="italic">r</text>
<text x="288.60" y="158.20" font-size="13.5" text-anchor="start" fill="#000" style="stroke:#000;stroke-width:0.35px">g</text>
<line x1="460.70" y1="160.50" x2="460.70" y2="277.60" stroke="#d6d6d6" stroke-width="0.8"/>
<line x1="485.70" y1="160.50" x2="485.70" y2="277.60" stroke="#d6d6d6" stroke-width="0.8"/>
<line x1="510.70" y1="160.50" x2="510.70" y2="277.60" stroke="#d6d6d6" stroke-width="0.8"/>
<line x1="535.70" y1="160.50" x2="535.70" y2="277.60" stroke="#d6d6d6" stroke-width="0.8"/>
<line x1="436.30" y1="178.50" x2="540.90" y2="178.50" stroke="#d6d6d6" stroke-width="0.8"/>
<line x1="436.30" y1="200.60" x2="540.90" y2="200.60" stroke="#d6d6d6" stroke-width="0.8"/>
<line x1="436.30" y1="222.70" x2="540.90" y2="222.70" stroke="#d6d6d6" stroke-width="0.8"/>
<line x1="436.30" y1="244.80" x2="540.90" y2="244.80" stroke="#d6d6d6" stroke-width="0.8"/>
<line x1="436.30" y1="266.90" x2="540.90" y2="266.90" stroke="#d6d6d6" stroke-width="0.8"/>
<rect x="436.30" y="160.50" width="104.60" height="117.10" fill="none" stroke="#cfcfcf" stroke-width="0.9"/>
<polygon points="440.80,181.60 443.90,192.70 447.30,205.00 450.90,208.10 455.50,205.90 459.10,207.40 465.50,203.20 471.80,203.20 476.40,204.10 480.90,206.80 484.50,202.60 490.90,203.20 498.20,204.10 507.30,203.70 512.70,205.00 518.20,206.30 525.50,203.20 530.90,205.00 535.80,205.90 535.80,266.80 521.80,267.20 512.70,266.50 505.50,266.50 500.00,264.10 494.50,265.40 487.30,265.00 481.80,266.50 476.40,264.10 473.60,265.00 470.00,270.50 465.50,265.90 460.00,263.20 456.40,266.80 451.90,255.00 448.20,245.00 445.50,237.20 440.80,229.70" fill="#4c72b0" fill-opacity="0.2"/>
<polyline points="440.80,207.00 445.50,221.30 450.30,231.50 455.10,235.60 461.40,234.70 467.80,234.70 470.50,233.20 475.70,232.40 480.90,236.80 484.50,232.40 490.30,234.50 496.00,234.70 505.00,235.80 514.10,234.60 535.80,236.10" fill="none" stroke="#4c72b0" stroke-width="1.05" stroke-opacity="0.85" stroke-linejoin="round"/>
<polyline points="440.80,197.50 445.50,218.10 450.30,232.40 456.70,238.80 461.40,240.40 474.10,242.00 478.20,245.00 481.80,246.80 485.50,245.90 490.90,248.60 500.00,250.50 507.30,251.90 516.40,252.60 525.50,254.10 535.80,255.50" fill="none" stroke="#e29d78" stroke-width="1.05" stroke-linejoin="round"/>
<line x1="436.30" y1="200.60" x2="540.90" y2="200.60" stroke="#111" stroke-width="1" stroke-dasharray="2.2,1.6"/>
<rect x="441.30" y="163.80" width="96.4" height="19.2" rx="1.5" fill="#fff" fill-opacity="0.8" stroke="#d8d8d8" stroke-width="0.6"/>
<line x1="443.90" y1="168.6" x2="456.90" y2="168.6" stroke="#4c72b0" stroke-width="1.1"/>
<line x1="443.90" y1="177.9" x2="456.90" y2="177.9" stroke="#e29d78" stroke-width="1.1"/>
<text x="462.10" y="170.90" font-size="6.8" text-anchor="start" fill="#2e2e2e" textLength="73.2" lengthAdjust="spacingAndGlyphs" >within each organizaion</text>
<text x="462.10" y="180.20" font-size="6.8" text-anchor="start" fill="#2e2e2e" textLength="33.1" lengthAdjust="spacingAndGlyphs" >entire data</text>
<text x="460.70" y="287.60" font-size="7.0" text-anchor="middle" fill="#2e2e2e" >5</text>
<text x="485.70" y="287.60" font-size="7.0" text-anchor="middle" fill="#2e2e2e" >10</text>
<text x="510.70" y="287.60" font-size="7.0" text-anchor="middle" fill="#2e2e2e" >15</text>
<text x="535.70" y="287.60" font-size="7.0" text-anchor="middle" fill="#2e2e2e" >20</text>
<text x="430.90" y="180.90" font-size="6.6" text-anchor="end" fill="#2e2e2e" textLength="9.0" lengthAdjust="spacingAndGlyphs" >0.1</text>
<text x="430.90" y="203.00" font-size="6.6" text-anchor="end" fill="#2e2e2e" textLength="9.0" lengthAdjust="spacingAndGlyphs" >0.0</text>
<text x="430.90" y="225.10" font-size="6.6" text-anchor="end" fill="#2e2e2e" textLength="14.0" lengthAdjust="spacingAndGlyphs" >−0.1</text>
<text x="430.90" y="247.20" font-size="6.6" text-anchor="end" fill="#2e2e2e" textLength="14.0" lengthAdjust="spacingAndGlyphs" >−0.2</text>
<text x="430.90" y="269.30" font-size="6.6" text-anchor="end" fill="#2e2e2e" textLength="14.0" lengthAdjust="spacingAndGlyphs" >−0.3</text>
<text x="488.60" y="296.00" font-size="7.6" text-anchor="middle" fill="#2e2e2e" textLength="117" lengthAdjust="spacingAndGlyphs" >The number of interaction partners</text>
<text x="0.00" y="0.00" font-size="7.5" text-anchor="middle" fill="#2e2e2e" transform="translate(413.10,219.45) rotate(-90)" font-style="italic">r</text>
<text x="424.80" y="159.80" font-size="13.5" text-anchor="start" fill="#000" style="stroke:#000;stroke-width:0.35px">h</text>
</svg></body></html>
